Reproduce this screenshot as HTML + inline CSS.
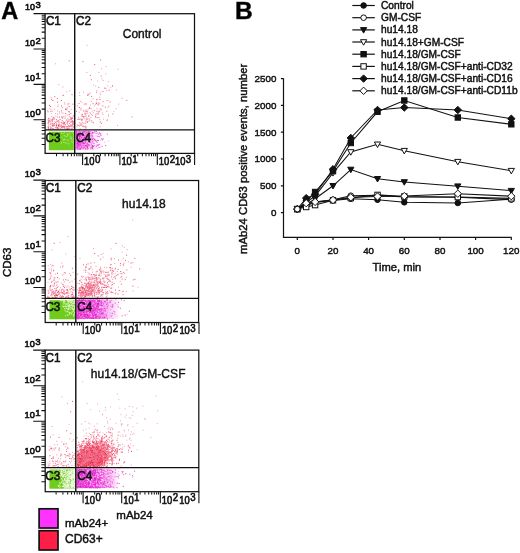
<!DOCTYPE html>
<html lang="en"><head><meta charset="utf-8"><title>Figure</title>
<style>html,body{margin:0;padding:0;background:#fff}svg{display:block}text{stroke:#111;stroke-width:.45px}.pa text{stroke-width:.6px}</style></head>
<body>
<svg width="520" height="553" viewBox="0 0 520 553" font-family="'Liberation Sans', Arial, sans-serif" fill="#111">
<rect width="520" height="553" fill="#fff"/>
<defs><filter id="bl" x="-5%" y="-5%" width="110%" height="110%"><feGaussianBlur stdDeviation="0.3"/></filter><linearGradient id="mg0" x1="0" x2="1" y1="0" y2="0"><stop offset="0" stop-color="#f040dc" stop-opacity="0.6"/><stop offset="0.45" stop-color="#f46ae4" stop-opacity="0.35"/><stop offset="1" stop-color="#f46ae4" stop-opacity="0"/></linearGradient><linearGradient id="mg1" x1="0" x2="1" y1="0" y2="0"><stop offset="0" stop-color="#f428d8" stop-opacity="1"/><stop offset="0.4" stop-color="#f02cd8" stop-opacity="0.9"/><stop offset="0.78" stop-color="#f46ae4" stop-opacity="0.35"/><stop offset="1" stop-color="#f46ae4" stop-opacity="0"/></linearGradient><linearGradient id="mg2" x1="0" x2="1" y1="0" y2="0"><stop offset="0" stop-color="#f02cd8" stop-opacity="0.95"/><stop offset="0.55" stop-color="#f02cd8" stop-opacity="0.9"/><stop offset="0.85" stop-color="#f46ae4" stop-opacity="0.4"/><stop offset="1" stop-color="#f46ae4" stop-opacity="0"/></linearGradient></defs>
<text x="1.2" y="18.7" font-size="23.5" font-weight="bold" fill="#000">A</text>
<text x="234.9" y="18.9" font-size="24.5" font-weight="bold" fill="#000">B</text>
<g class="pa">
<g filter="url(#bl)">
<rect x="48.9" y="131.7" width="24.9" height="18.5" fill="#70cc1c"/>
<path d="M68.3 135h1M71.6 142.7h1M70.1 138.1h1M63.6 142.3h1M64.5 139.7h1M71.3 141h1M61 132.8h1M70.7 138.5h1M70.4 138h1M66.5 142.6h1M64.5 136.2h1M64.2 139.2h1M63.9 132.4h1M66.2 136.5h1M66.9 135.7h1M67.5 133.6h1M72.7 141.9h1M70.3 136.4h1M68.3 143.9h1M72.7 139.1h1M63.5 139.3h1M62.8 139.7h1M68.2 140.2h1M61.4 133.6h1M61.3 137.2h1M67 134.7h1M66.4 136.7h1M71.8 132.9h1M68.4 143.8h1M67 134.4h1M66.8 140.1h1M63.8 135.5h1M61 142.6h1M63.2 140h1M69.1 133.3h1M63.3 142.3h1M65.3 143.5h1M60.9 143h1M70.8 138.8h1M62.7 133.5h1" stroke="#b4e884" stroke-width="1" stroke-opacity="0.9" fill="none"/>
<path d="M52.2 123.6h1M71.8 122.2h1M61.8 118.1h1M51.9 119.7h1M70.6 119.5h1M64.2 126.6h1M62.3 126.4h1M57.1 127.5h1M58 125.9h1M53.5 129.3h1M48.1 118.4h1M70.4 124.9h1M59.5 126.7h1M61.7 120.6h1M55.7 125h1M67.1 128.3h1M47.8 122.2h1M57 102.1h1M47.9 127.9h1M50.4 111.3h1M72.8 123h1M64.6 124.5h1M58.5 121.2h1M61 106h1M70.3 113.5h1M56.3 126h1M62.8 95.4h1M65.3 109.4h1M56.6 128.9h1M60.9 100.5h1M67.5 121.3h1M71.3 126h1M51.1 99.4h1M71.9 120.7h1M47.2 110.9h1M67.1 122.2h1M68.7 114.5h1M50.7 120.1h1M58.2 128.7h1M68.8 126.5h1M47.5 127h1M63.8 122.9h1M68.2 125.7h1M60.7 126.3h1M66.4 109.8h1M53.1 125.7h1M52.4 100.5h1M56.8 98.6h1M51.9 120.9h1M56.3 124.8h1M72.3 123.8h1M62.4 126.6h1M56.1 125.4h1M54.3 96.7h1M72.4 124.3h1M58.9 117.2h1M73.2 126.9h1M60.8 122.4h1M61 110.9h1M70.9 118.4h1M66.9 129.5h1M62.5 123.7h1M58.4 125.1h1M70.5 117.7h1M58 125.9h1M71.6 121.6h1M48.9 105.6h1M58.5 122.7h1M60.9 125.1h1M72.4 104.2h1M53.8 123.5h1M68.5 127h1M65.1 113.5h1M66.2 126.7h1M63.8 128h1M72.9 121.7h1M55.9 119.7h1M57.7 120.7h1M52.5 118.8h1M48.4 121.2h1M52.8 117.6h1M71.5 94.7h1M69.4 121h1M50.1 124.1h1M63.2 121.9h1M59.8 128.9h1M62.9 123.9h1M64.6 118h1M55.3 122.5h1M72.7 116.1h1M59.5 119.5h1M63.8 123.4h1M64 122.7h1M52 125.4h1M48.7 120.1h1M58 124.9h1M67.4 128.4h1M68.8 112.1h1M66.5 108.1h1M50.1 106.5h1M71.4 128.9h1M68.4 111.5h1M70.4 118.8h1M61 127.7h1M71.5 125.4h1M48.3 125h1M47.9 128.7h1M47.6 123.4h1M53.8 125.2h1M53.7 125.1h1M52.1 119.7h1M62.2 127.8h1M48.1 127.1h1M62.8 126.3h1M51.5 125h1M65.1 109.1h1M47.7 120.1h1M55.4 127.7h1M72.1 118.5h1M61.4 116.7h1M68.7 60.9h1" stroke="#e63050" stroke-width="1" stroke-opacity="0.8" fill="none"/>
<path d="M64.6 128.5h1M63.3 116.4h1M52.2 121h1M62.4 87h1M48.2 129.5h1M68.4 106.4h1M72.6 126.5h1M69.8 117.1h1M48.4 122.5h1M56.1 121.4h1M55.6 127.1h1M50.1 128.6h1M63.8 127h1M68.3 129.1h1M55.4 116.1h1M70.1 126.6h1M68.3 119.4h1M50.5 121.9h1M67.5 126.6h1M70.6 125.7h1M52.3 128.6h1M62.4 117.7h1M64.1 123.7h1M63.3 127.5h1M49.7 126.5h1M64.7 125.3h1M63.9 123h1M69 123.5h1M68.5 103.8h1M55.8 127.4h1M66.3 119.7h1M70.2 122.5h1M70.9 125.8h1M51.4 116.4h1M47.8 111.9h1M64.4 104.1h1M52.8 126h1M62.1 107.5h1M72.2 124.8h1M57.2 128.8h1M53.8 109.3h1M59.2 113h1M64.6 126.7h1M49.8 121.2h1M57.2 129h1M50.7 123.2h1M64.7 116h1M69.2 90.9h1M57.1 129.1h1M57 111h1M61.5 117.4h1M52.8 128.8h1M53.7 118.6h1M55.9 123.3h1M59.3 125.2h1M49.3 108.5h1M67.1 118.2h1M62.5 112.9h1M55.1 63.8h1M49.2 105h1M67.4 104.8h1M50.6 97.5h1M50.6 109.6h1M50.6 127.3h1M49.3 121.8h1M71.2 122.1h1M54.3 121.7h1M55.3 113.5h1M69.3 119.7h1M63.6 122.5h1M52.1 111.2h1M58.7 124.2h1M70.6 121.4h1M57.1 121.1h1M66 120.3h1M49.7 128.9h1M66.4 127h1M67.8 128.8h1M69.1 106.6h1M65 122.1h1M57 117h1M48.8 121h1M60.9 123h1M67.2 123.6h1M52.2 123.2h1M54.2 117.9h1M61.4 113.1h1M67 126.6h1M70.9 125.2h1M50.4 127.7h1M52 126.3h1M68.4 128.5h1M64.2 102.8h1M66.3 91.9h1M73.6 124.7h1M72.1 117.7h1M69.5 128.9h1M67.8 120.9h1M57.6 105.1h1M64.2 127.5h1M52 128.4h1M67.3 121.3h1M67.3 115.1h1M66.3 128.1h1M58.9 124.1h1M57.2 128.6h1M58.3 84.6h1M48 128.2h1M69.6 125.8h1M61.5 127.8h1M57.4 106.5h1M61.7 122.3h1M66.3 123.7h1M57.2 114.1h1M69.2 116.4h1M71.6 128.3h1M57.4 121.9h1M50.8 113.3h1M67.3 124.8h1M73.5 123.2h1M51 128.9h1M66.1 129.5h1M69.1 128.9h1M71.6 127.3h1M50.4 129h1M49.5 118.8h1M73.4 115.4h1M50.2 128h1M51.8 129.2h1M62.4 95.1h1M59 111.8h1M67.1 128.7h1M52.2 119.4h1M71.4 129h1M52.9 124.2h1M67.6 103.6h1M48.9 121h1M59.7 125.4h1M48 129.2h1M55.4 127.4h1M55.4 129.3h1M66.2 128.9h1M59.2 126.7h1M48.6 129.1h1M73.6 127.8h1M70.7 109.6h1M71.5 121.1h1M53.7 119.2h1M57.6 127.6h1" stroke="#f0809a" stroke-width="1" stroke-opacity="0.8" fill="none"/>
<path d="M95.7 103.2h1M97.6 104.9h1M81.4 125.3h1M104.9 107.2h1M100.5 110h1M96.6 117.6h1M88.4 116.2h1M100.9 123.4h1M98.7 111.4h1M89.3 93.2h1M85.7 115.8h1M89.9 75.4h1M98.5 103.9h1M78.9 107.5h1M91.1 96.5h1M96.1 103.6h1M96.1 99.7h1M92.9 122.8h1M85.5 121h1M84.7 123.3h1M112.3 114h1M80.5 124.2h1M100.7 76.1h1M78.5 103.5h1M82.4 61.6h1M102.6 101.6h1M96 92.2h1M81.2 120.2h1M106.3 111.2h1M106.8 119.9h1M91.3 120.9h1M85.6 110.2h1M83.4 117.8h1M104.2 88.1h1M83.8 104.1h1M85.5 113.5h1M81.8 116.1h1M109.7 101.9h1M82 114.4h1M82.8 116.5h1M131.6 116.9h1M108.6 90.1h1M96.6 113.4h1M95 116.3h1M97.7 114.1h1M83.3 116.5h1M86.7 111.7h1M81.7 119.3h1M76.9 125.1h1M112 86h1M98.3 87.4h1M126.3 100.4h1M87.3 121.7h1M78.2 125.4h1M82.3 126.4h1M80.7 119.1h1M76 111.3h1M100.1 59.9h1M94.2 64.5h1M88.2 94.7h1M99.5 99.6h1M85.3 127.6h1M98.5 117.6h1M89 107.9h1M89.4 108.4h1M85.6 103.7h1M90.8 79.7h1M86.9 122.3h1M84.8 126.2h1M86.3 119.1h1M87.2 95.5h1M102.3 105.9h1M105.4 88.3h1" stroke="#e63050" stroke-width="1" stroke-opacity="0.75" fill="none"/>
<path d="M87.4 109.8h1M89.3 118.8h1M78.6 119h1M93.7 106h1M117.7 69.2h1M79.6 128.9h1M91 114.5h1M99.8 122.4h1M118.1 104.1h1M85.3 111.8h1M92.7 112.7h1M100.5 109h1M95.9 102.4h1M88.3 115.4h1M78.6 112.2h1M107.6 107.2h1M76.9 119.3h1M97.3 99.7h1M86.5 118h1M106.4 100.4h1M98 112.9h1M117 125.4h1M84.3 118.9h1M81.2 119.9h1M90.1 113.7h1M102.8 80.6h1M95.7 115h1M99.3 119.7h1M84.7 114.6h1M79.7 109h1M100.1 121.6h1M106.6 120.4h1M98.4 102.7h1M81.3 102.2h1M92.5 103.9h1M107.3 85.9h1M78.9 126.3h1M89.1 107.3h1M90 105h1M79.5 124.1h1M84.5 111.1h1M113.5 111.7h1M90.9 101.5h1M81.5 120.8h1M82.9 110.4h1M86.2 126.7h1M108 114.7h1M82.2 122.7h1M91.8 111.1h1M108 116.2h1M98.4 72.5h1M86.4 119.4h1M77.9 117.4h1M108.3 106h1M88.7 120.7h1M110.3 87.2h1M80.3 110h1M81.4 123.2h1M86 111.5h1M83.1 111.2h1M83.4 126.8h1M79 92.8h1M96.4 108.6h1M92.6 98.9h1M102.9 91.5h1M121.6 98.2h1M76.5 126.9h1M83 92.2h1M90.5 117.4h1M89.6 121h1M99.7 108.9h1M94.8 104.7h1M115.9 90h1M86.6 45.2h1M90.7 108.7h1M96.2 111.3h1M94.9 114.1h1M79.2 95.5h1M101 68.7h1M84.8 116.5h1M91.8 115.4h1M95.1 117.8h1M105.3 74h1M87.1 113.2h1M103.1 119.1h1M99.7 126.8h1M92.5 103.5h1M92.9 85.1h1M97.3 111h1M80.9 114.8h1M112.1 85.6h1M85.4 128.8h1M87.2 119.1h1M79.9 101.4h1M88 116.3h1M80.6 108.3h1M108.1 81.6h1M83.9 126.8h1M85.5 104.7h1M87.2 94.1h1M107.4 100.5h1M78 119.6h1M115.6 108.9h1M89.5 112.7h1M84 113.1h1M106.2 90.6h1M105.6 66.6h1M79.8 125.6h1M88.5 108.5h1M99.6 92.8h1M97.1 81h1M99.9 94.6h1M85.6 122h1M98.7 111.9h1M84.6 114.2h1M79.3 119h1M101.6 91.5h1M93.8 110.4h1M86.3 72.5h1M88.6 119h1M76.9 105.8h1M101.9 112.8h1M95.2 86.1h1M101.5 78.9h1M79.3 119.4h1M82.9 126.1h1M99.3 97.2h1M80.3 123.9h1M83.1 123.1h1M81.3 116.5h1M79.1 122.6h1M94.1 110.7h1M91.6 122.4h1M96.5 90.6h1M98.3 103.9h1M102.7 114.3h1" stroke="#f0809a" stroke-width="1" stroke-opacity="0.8" fill="none"/>
<rect x="75.3" y="131.1" width="24" height="18.7" fill="url(#mg0)"/>
<path d="M78.5 131.2h1M78 144h1M91.9 133.5h1M80.9 138.9h1M87.3 146.1h1M84.2 143h1M88.6 135.4h1M84.5 136.7h1M79.9 134.7h1M97.5 140.6h1M79.3 136.1h1M77 144.6h1M101.5 146.4h1M79.9 142h1M85.1 131.2h1M84.1 140h1M89.3 142.6h1M88.7 140.5h1M89.6 142.2h1M82.3 137.4h1M82.9 131.7h1M77.7 146.7h1M75.9 140.3h1M86.9 146.1h1M82.2 132.5h1M99.2 136.7h1M80.7 134.5h1M80.3 136.4h1M78.8 146.6h1M79.2 136.1h1M89.8 138.6h1M82.5 132h1M77.8 142.6h1M83.2 139h1M91.4 136.1h1M89.3 145.3h1M79.8 135.4h1M86.8 149h1M76.4 147.5h1M87.9 132.3h1M87.6 144.9h1M93.6 145.5h1M79.1 137.8h1M88.2 139.1h1M87.4 144.3h1M79.3 143.1h1M88.6 145.9h1M75.8 134.6h1M89.4 137.3h1M85.4 138.7h1M83.9 140.4h1M81.5 145.4h1M80.3 148.4h1M78.4 145.2h1M78.3 145.9h1M87.1 144h1M81.6 140.2h1M95.7 141.4h1M76.9 148.6h1M87 139.3h1M76.7 147.1h1M78.5 142.7h1M99.1 144.3h1M79.3 143.1h1M90.4 147.5h1M83.9 146.9h1M79.3 136.7h1M100.5 135.3h1M78.1 132h1M86.4 132.6h1M87.2 147.4h1M79.8 149.2h1M83.4 135.7h1M96.4 133.3h1M83.7 138.9h1M82.6 138.8h1M79.2 142.1h1M87.4 148.8h1M75.9 142.6h1M78.7 144.3h1M102.4 138.8h1M82.6 132.6h1M81.9 145.4h1M80.7 133.8h1M91.1 134.1h1M92.7 132.6h1M78.8 131.2h1M87.4 139.5h1M91.9 136.8h1M81.7 136.3h1M85 142.8h1M78.5 136.1h1M76.4 143.7h1M76.7 146h1M75.7 132.4h1M88.5 137.6h1M77.1 144.4h1M77.5 133.8h1M78.9 135.9h1M79.6 137.6h1M86 132.5h1M81.5 135.9h1M76.3 144.6h1M82.2 143.2h1M77.1 144.3h1M82.7 147h1M98.7 147.3h1M91 144.1h1M80.9 142h1M76.3 135.3h1M100.9 138.9h1M79.4 131.6h1M76.7 138.8h1M79.2 136.5h1M79.2 139.8h1M91.9 141.8h1M75.9 131.1h1M99.8 134.9h1M85.8 140h1M83.7 137.4h1M87.2 148.4h1M96.6 142.4h1M79.5 143.9h1M76.4 138.1h1M86.3 134.3h1M90.1 133.6h1M88.5 131.5h1M79.7 132.3h1M91.7 139.8h1M77.3 148.7h1M76.9 146h1M79.7 136.7h1M83.6 139h1M80.1 148.8h1M84.3 136.5h1M81.8 143.8h1M93.1 146.5h1M97.9 134.2h1M77 142h1M80.5 134.8h1M81.4 135.4h1M86.6 144.4h1M77.4 138.8h1M87.7 137.2h1M83.7 147.7h1M76.8 137.7h1M77.6 143.5h1M80 139.6h1M78.5 143h1M93.6 140h1M82.6 148.4h1M79 131.2h1M77.5 142.4h1M87 132h1M89.7 142.5h1M88.3 132.5h1M84.7 135.8h1M93.5 143.4h1M92 147h1M84.2 138.5h1M89.3 136.1h1M83 132h1M81.4 145.7h1M93.9 139.2h1M76.1 133.5h1M90.4 148.8h1M89.6 131.4h1M86.2 135.5h1M83.6 139.3h1M76.5 131.6h1M82.9 145.1h1M85.1 133.3h1M79.6 145.7h1M76.2 147.9h1M85.2 146h1M95.8 146.2h1M83.2 143.8h1M88.4 131.5h1M75.7 131.8h1M83.9 135.4h1M81.2 137.5h1M96.7 140.4h1M91.5 147.2h1M81.9 133.1h1M76.7 143.7h1M90.4 140.7h1M78.6 144.6h1M77.4 143.2h1M106.8 134.1h1M76.8 138.9h1M99.8 133.3h1M83.4 139.1h1M77 141.9h1M90.1 133.6h1M85.7 131.7h1M79.9 144.2h1M79.6 145.9h1M77.6 147.2h1M85.9 136.4h1M84.8 142.4h1M81.9 132.7h1M81.4 133.9h1M91.6 135.5h1M84.7 139.8h1M83.2 134.1h1M94.3 139.3h1M76.5 143.6h1M84 145.4h1M80 145.6h1M78.5 149.4h1M88.5 138.5h1M90.8 138.1h1M88.4 131.5h1M78.4 140.6h1M95.9 131.3h1" stroke="#ee2ad8" stroke-width="1" stroke-opacity="0.9" fill="none"/>
<path d="M87.7 138.4h1M86.9 140.5h1M95.4 133.1h1M79.1 141.2h1M90 135.7h1M82.7 132.6h1M77.9 141.9h1M75.7 147h1M80.6 135.3h1M93.3 148.1h1M86.5 148.7h1M90.9 138.7h1M88.9 139.3h1M91.3 132h1M79.7 140.1h1M83.2 131.3h1M103 139.1h1M85 141.3h1M77.5 134.5h1M81.2 145.4h1M100 140.2h1M77.3 141.7h1M84.4 148.9h1M76.9 145.1h1M87.7 136.1h1M84.5 141h1M80.1 137.3h1M82.1 136.7h1M80.9 135.3h1M94.9 132.3h1M85.6 143.4h1M84.9 137.8h1M81.8 146.2h1M81.3 142.3h1M92.5 133.5h1M75.9 142.5h1M97 136.2h1M86.6 144.7h1M78.6 143.5h1M91.6 133.2h1M79.7 144h1M81.7 145.7h1M92.4 142.3h1M83.3 137.1h1M75.8 147.7h1M79.8 148.1h1M84.2 139.4h1M89.4 138.4h1M76.4 138.3h1M95.6 147h1M77 147.8h1M75.9 140.3h1M83.3 142.4h1M87.3 132.2h1M91.6 142.2h1M97.2 132.9h1M91.1 139.6h1M93.6 140.7h1M82.6 144.7h1M79.9 140.7h1M89 132.1h1M87.7 132.2h1M95.6 135.9h1M86.4 134.7h1M79.1 132.8h1M87.8 144.6h1M79.6 137.6h1M98.7 132.3h1M82.3 138.3h1M81.9 138.1h1M90.1 131.6h1M99.8 147.3h1M84.1 136.7h1M101.1 134h1M77.1 132.7h1M77.3 140.5h1M97.7 140.6h1M79.6 146h1M75.8 142.5h1M82.5 140.8h1M93.9 143.4h1M76.4 148.4h1M87.7 139.5h1M81.7 134h1M79.1 141h1M76.6 148.3h1M76 139.3h1M86.2 141.4h1M89.7 142.7h1M91.6 143.4h1M89.2 133.1h1M86.7 139.7h1M76.8 141.5h1M84.5 138.4h1M78.3 147.7h1M81.1 134.6h1M84.2 134.9h1M79 131.2h1M87.1 142.1h1M82.1 143.9h1M78.4 146.4h1M93.7 132.1h1M84.5 143.9h1M77.5 131.7h1M80.5 131.2h1M89.1 136.9h1M83.7 144.3h1M108.1 141.1h1M76.2 144.9h1M92.4 149.7h1M88 136h1M104.3 142.1h1M81.7 147.3h1M76.6 137.6h1M78.6 141h1M79.7 134.9h1M83.1 142.7h1M90.5 141.3h1M87.1 140.4h1M93.8 133h1M86.4 140.3h1M78.9 147.7h1M89 138.3h1M83.9 145.9h1M86.5 132.4h1M83.8 145.3h1M81 139.1h1M76.3 135.5h1M88.9 137.7h1M90.6 146.9h1M81.1 136h1M82.7 142.2h1M82.1 139.5h1M81.1 147h1M93.2 141h1M81.3 134.6h1M85.6 136h1M82.2 136.3h1M96.3 145h1M97.5 146h1M90.4 133.8h1M78.7 139.5h1M78.9 138.9h1M86.8 131.1h1M97.2 148.3h1M80.1 134.1h1M83.6 133h1M81.4 145.8h1M92.6 136.5h1M92.2 139.1h1" stroke="#f58af0" stroke-width="1" stroke-opacity="0.85" fill="none"/>
<path d="M78.8 136.1h1M78.6 135.3h1M83.9 131.3h1M84.8 141.2h1M88.7 133.3h1M82 132.2h1M75.8 141.2h1M77.7 139.8h1M92 139.1h1M78.8 134.4h1M86 145.3h1M77.5 135.7h1M97.1 145h1M82.9 135.1h1M79.3 138.8h1M94.4 131.2h1M92 147h1M95.1 140.3h1M84 137.6h1M84.5 138.7h1M76.4 135h1M82.9 143.2h1M76.7 134h1M91.8 145.5h1M83.6 140.4h1M79.6 135.6h1M85 145.7h1M85.8 146.9h1M87.5 137.7h1M88.7 133.2h1M91.7 145.9h1M91.9 132.4h1M81.1 147.2h1M105.2 145.6h1M87.1 137h1M86.6 143.1h1M78.6 141.7h1M88.4 144.6h1M78.9 138.3h1M78.4 142.4h1M83.6 132.3h1M97.9 145h1M97.6 140.4h1M80.1 134.9h1M79.5 148.2h1M82.4 142.7h1M77.4 142.9h1M85.8 134.2h1M77.5 145.1h1M80.5 144h1M83.7 143.4h1M99.1 133.1h1M92.7 138.3h1M101.9 139.9h1M87 138h1M87.4 133.7h1M91.9 148.5h1M77.1 141.1h1M85 148.8h1M82.5 139.4h1M86.8 147h1M84.9 140.7h1M77.2 147.7h1M97.6 136.4h1M77.5 135.7h1" stroke="#b8209c" stroke-width="1" stroke-opacity="0.8" fill="none"/>
</g>
<g stroke="#111" stroke-width="1.25" fill="none">
<rect x="45.1" y="13.7" width="149.4" height="139.7"/>
<path d="M74.7 13.7V153.4M45.1 129.9H194.5" stroke-width="1.4"/>
</g>
<path d="M33.5 119.8H45.1M33.5 84.4H45.1M33.5 49H45.1M33.5 13.6H45.1M82.6 153.4V164.9M119.9 153.4V164.9M157.3 153.4V164.9M194.6 153.4V164.9" stroke="#111" stroke-width="1.1" fill="none"/>
<path d="M41.7 144.5H45.1M56.5 154V156.3M41.7 138.3H45.1M63.1 154V156.3M41.7 133.9H45.1M67.7 154V156.3M41.7 130.5H45.1M71.4 154V156.3M41.7 127.7H45.1M74.3 154V156.3M41.7 125.3H45.1M76.8 154V156.3M41.7 123.2H45.1M79 154V156.3M41.7 121.4H45.1M80.9 154V156.3M41.7 109.1H45.1M93.8 154V156.3M41.7 102.9H45.1M100.4 154V156.3M41.7 98.5H45.1M105.1 154V156.3M41.7 95.1H45.1M108.7 154V156.3M41.7 92.3H45.1M111.6 154V156.3M41.7 89.9H45.1M114.1 154V156.3M41.7 87.8H45.1M116.3 154V156.3M41.7 86H45.1M118.2 154V156.3M41.7 73.7H45.1M131.2 154V156.3M41.7 67.5H45.1M137.7 154V156.3M41.7 63.1H45.1M142.4 154V156.3M41.7 59.7H45.1M146 154V156.3M41.7 56.9H45.1M149 154V156.3M41.7 54.5H45.1M151.5 154V156.3M41.7 52.4H45.1M153.6 154V156.3M41.7 50.6H45.1M155.6 154V156.3M41.7 38.3H45.1M41.7 32.1H45.1M41.7 27.7H45.1M41.7 24.3H45.1M41.7 21.5H45.1M41.7 19.1H45.1M41.7 17H45.1M41.7 15.2H45.1" stroke="#111" stroke-width="1.05" fill="none"/>
<text x="24.9" y="116.6" font-size="9.0">10<tspan dx="0.5" dy="-2.0" font-size="9.5">0</tspan></text>
<text x="24.9" y="81.2" font-size="9.0">10<tspan dx="0.5" dy="-2.0" font-size="9.5">1</tspan></text>
<text x="24.9" y="45.8" font-size="9.0">10<tspan dx="0.5" dy="-2.0" font-size="9.5">2</tspan></text>
<text x="24.9" y="10.4" font-size="9.0">10<tspan dx="0.5" dy="-2.0" font-size="9.5">3</tspan></text>
<text transform="translate(84.1 165.3) scale(.9 1)" font-size="10.4">10<tspan dx="0.5" dy="-2.4" font-size="10.8">0</tspan></text>
<text transform="translate(121.4 165.3) scale(.9 1)" font-size="10.4">10<tspan dx="0.5" dy="-2.4" font-size="10.8">1</tspan></text>
<text transform="translate(158.8 165.3) scale(.9 1)" font-size="10.4">10<tspan dx="0.5" dy="-2.4" font-size="10.8">2</tspan></text>
<text transform="translate(175 165.3) scale(.9 1)" font-size="10.4">10<tspan dx="0.5" dy="-2.4" font-size="10.8">3</tspan></text>
<text transform="translate(45.9 25.3) scale(.9 1)" font-size="13">C1</text>
<text transform="translate(76.1 25.3) scale(.9 1)" font-size="13">C2</text>
<text transform="translate(45.5 142) scale(.9 1)" font-size="13">C3</text>
<text transform="translate(76.1 142) scale(.9 1)" font-size="13">C4</text>
<text x="122.7" y="37.6" font-size="12" textLength="38.8" style="stroke-width:.4px">Control</text>
</g>
<g class="pa">
<g filter="url(#bl)">
<rect x="49.5" y="300.2" width="25.4" height="19.1" fill="#70cc1c"/>
<path d="M73.2 305.6h1M73.6 309.2h1M70.9 314h1M68.7 314.8h1M71.8 311.9h1M74.7 303.2h1M71 313.4h1M73 309.5h1M73.9 301.2h1M72.8 315.1h1M69.9 301.9h1M65.4 308.9h1M72.2 309.2h1M73.5 314h1M74.6 308.6h1M64.9 315.9h1M64 300.4h1M71.6 300.3h1M73.4 301.4h1M63 306.8h1M71.4 304.3h1M67 300.5h1M74.9 301.4h1M68.4 306.9h1M63.2 304h1M73 310.7h1M67.5 305h1M69.1 313.3h1M64.4 310.6h1M67.9 305.4h1M64.5 303.3h1M66.8 301.6h1M71 302.4h1M67.5 303.3h1M71.9 303.4h1M74.1 301.2h1M71 305.1h1M61.3 300.7h1M74.6 313.1h1M65.8 306.4h1M68.1 300.6h1M70.4 302.9h1M71.4 302h1M68.1 301h1M69.4 305.2h1M71.5 301.3h1M69.6 301h1M67.2 309.3h1M69 304.4h1M68.7 308.7h1M67.4 305h1M71.2 305.6h1M70.2 302.7h1M69 304.3h1M72.3 305.2h1M73.3 303.1h1M71.7 312.1h1M68.1 301.9h1M74.4 301.6h1M63.8 303.1h1M73.2 311.1h1M69.1 312.6h1M68.8 306.7h1M73.6 303.3h1M71.8 308.3h1M74.7 312.1h1M73.9 301.9h1M64.1 308.6h1M70.1 309.5h1M72.9 303.8h1M63.2 300.9h1M70.6 307.5h1M74.8 301.5h1M66.5 303.5h1M64.1 306.3h1M67.3 315.3h1M68.1 300.9h1M67.3 300.4h1M69.3 306.2h1M73.5 314.9h1M70.3 300.3h1M71.1 308.1h1M63.9 300.3h1M62.7 306.4h1M74.5 300.7h1M68.2 308.5h1M74.5 303.4h1M68 308.4h1M71.6 302h1M71.8 300.5h1M63.4 301.3h1M62.9 302.2h1M69.4 301.1h1M64.4 301.4h1M67.4 306.3h1M65.8 304.5h1M67.7 312h1M69.6 305.5h1M67.7 306.2h1M68 309.5h1M69.9 312.7h1M72.1 307h1M61.9 300.3h1M74.9 304.8h1M69.3 300.3h1M74.3 307.4h1M59.9 300.4h1M62.4 306.2h1M63.7 301h1M74.2 312.7h1M69 300.6h1M73.6 308.5h1M72.2 309.4h1M63.4 302.2h1M68.4 307.2h1M67.9 302.9h1M69.5 302.1h1M72.7 302.1h1M63.2 300.2h1M74.3 308.7h1M69.8 300.4h1M68.4 301.4h1M72.2 300.5h1M67.1 311.6h1M72.3 306h1M69.1 305h1M69.8 307h1M65.6 311.7h1M65.9 307.8h1M73.7 305.7h1M71 302.7h1M69.2 305.8h1M72.9 316h1M74.2 306.7h1M65 305.1h1M74.9 313.5h1M60.5 300.4h1M71.4 300.4h1M66.9 311.2h1M66.7 314.8h1M70 300.3h1M71.2 300.2h1M69.3 300.2h1M72.4 306.9h1M74.5 300.9h1M65.2 306.6h1M66.5 308.6h1M71.3 300.2h1M69 313.1h1M67.7 302h1" stroke="#dff5c4" stroke-width="1" stroke-opacity="0.95" fill="none"/>
<path d="M62.5 284.7h1M57 273.3h1M56.7 295.7h1M58.3 294.5h1M47.3 297.1h1M59 293h1M54.5 297h1M57.1 277.5h1M51.7 297.3h1M56.4 297.6h1M66.5 290.1h1M74.4 279.1h1M52.6 297.5h1M71.1 288.5h1M64.2 294.1h1M50 285.6h1M47.6 297.3h1M71.6 297.7h1M53.7 243.4h1M50.1 273.7h1M65.3 279.7h1M66.7 289.6h1M71.9 268.3h1M61 296.8h1M55.8 295.6h1M56 290.3h1M52.9 294.1h1M64.7 293.6h1M73.2 287.7h1M49.5 288.9h1M57.9 291.6h1M56.9 295.7h1M49.4 286.9h1M63.6 291.5h1M74.3 297h1M54.8 292h1M67.3 293.3h1M72.1 294.5h1M54.7 297.7h1M72.6 296.8h1M67.9 297.3h1M65 297.3h1M52.6 291.2h1M54.9 297.5h1M50 278.1h1M71.9 287h1M69.5 289.1h1M49.6 272.6h1M61.9 292.9h1M53.1 270.3h1M68.3 295.4h1M63 296.7h1M73.3 297.9h1M67.3 292.4h1M50 286.7h1M57.5 281.8h1M63.1 279.9h1M72.4 289.9h1M57.4 292.3h1M52.4 265.4h1M55 294.9h1M54 295.4h1M51.5 281.5h1M56.7 287.5h1M54.1 283.8h1M61.3 292.6h1M71.9 297.8h1M73.5 290.2h1M51.6 289.5h1M62.9 286.4h1M65.8 292.5h1M51.4 294.9h1M61.9 296h1M52.7 292.6h1M57.2 292.7h1M56.1 294.7h1M69.7 289.8h1M53.7 278h1M62.1 266.9h1M63.4 290.9h1M56.3 285.1h1M72.9 297.5h1M56.4 295.4h1M56.2 290.7h1M66.3 296.9h1M60.7 297.4h1M67.2 290.3h1M51.4 292.8h1M51.3 294h1M67.5 280.2h1M57.9 291.2h1M70.9 294.5h1M53.6 293.5h1M53.8 283h1M71 286.3h1M57.2 295.1h1M50.2 290.3h1M53.3 280.2h1M68.4 298h1M54.5 295.4h1M62.5 292.9h1M70.2 275.3h1M64 287.6h1" stroke="#e63050" stroke-width="1" stroke-opacity="0.8" fill="none"/>
<path d="M68 296.2h1M74.2 297.9h1M55.5 297h1M71.4 295.7h1M62.4 296.8h1M52.8 291.2h1M50.8 282.4h1M56.2 282.6h1M51 269h1M68.5 293.2h1M62.6 265.9h1M48.4 291.1h1M71.4 291.9h1M63.6 292.3h1M59.4 296.3h1M51.1 294h1M60.2 295.1h1M72.5 297.2h1M63.3 274.2h1M59.9 292.6h1M64 281.9h1M62.4 296.8h1M64.4 272.5h1M52.7 286.4h1M51.3 295.9h1M47.5 282.3h1M70.2 296.1h1M47.3 296.1h1M54.3 286.1h1M63.4 289.9h1M61 289.5h1M72.1 293.2h1M53.1 291.5h1M50.3 295.5h1M51.6 249.9h1M60.9 283.2h1M55.2 288.9h1M59.8 287.8h1M66.2 293.4h1M56.1 288.6h1M65.6 290.1h1M47.7 293.7h1M62.3 293.5h1M72.2 296.4h1M73 295.2h1M63 293.5h1M74.3 256.3h1M53.7 292.5h1M55.4 290.3h1M59.6 242.6h1M61.2 290.4h1M69.8 291.9h1M59.5 297h1M48.5 297.9h1M66.5 296.7h1M53.3 285.3h1M71.6 281.2h1M53.1 270.8h1M55.4 294h1M51 270.8h1M55.6 293.3h1M63.8 272.8h1M54.6 293.2h1M48.5 292.6h1M63.4 294.4h1M67.5 236.5h1M50.2 264.6h1M58.9 289.8h1M49.1 297.5h1M47.7 265.7h1M57.5 286.5h1M55.1 274h1M71.4 296.3h1M47.6 290.1h1M65 273.2h1M67.4 291.3h1M58.7 278.8h1M61 291.7h1M54 288.6h1M54.2 280.1h1M48.7 279.3h1M72.2 292.8h1M48 293.2h1M51 291.1h1M67.2 286h1M59.8 295.2h1M61.3 263.1h1M55.3 290.5h1M51.6 285.2h1M69.3 282.4h1M50.6 275.4h1M55.4 282h1M68 297.8h1M55.4 298h1M73.5 289.4h1M52 291.8h1M61.8 275.2h1M62 295.8h1M61 292.7h1M68.6 287.1h1M48.5 268.9h1M62.3 289.7h1M69 273.5h1M48.6 297h1M62.3 284.6h1M59.4 290.7h1M58.4 293.5h1M62 289.2h1M64.4 286h1M66.6 295.7h1M72 292.6h1M65.3 253.9h1M74.8 287.7h1M65.6 297.2h1M54.6 292.1h1M51.3 266.4h1M49.2 279.3h1M54.6 296.6h1M50.5 276.5h1M66.1 293.3h1M66.2 287.1h1M64.1 294.7h1M57.8 294.1h1M60 267.2h1M54.4 277.8h1M72.6 272.4h1M47.6 291h1" stroke="#f0809a" stroke-width="1" stroke-opacity="0.8" fill="none"/>
<path d="M112.9 271.3h1M83.4 292.9h1M114.9 278.7h1M98.8 282.5h1M90.5 266.9h1M91.5 291.5h1M97.6 255.9h1M114.7 293.8h1M96.1 284.9h1M109.6 281.4h1M85.9 285.1h1M78.2 292.6h1M125 260.4h1M97.8 290.6h1M78.8 283.7h1M92.4 278.5h1M110.5 288.3h1M86 264.8h1M82 291.5h1M122.6 294.7h1M106.1 292.7h1M102.3 284.1h1M98.7 290.8h1M87.5 276.9h1M112.1 270.4h1M102.8 278.8h1M87.7 287.1h1M88.3 291.3h1M88.1 278.9h1M79.9 296.2h1M102.1 289.7h1M106.7 272.3h1M81.9 293.7h1M85.1 291.8h1M99.1 290.4h1M88.8 268.7h1M87.6 291.8h1M85.5 295.7h1M93.2 284.8h1M79.2 280.6h1M117.3 274.8h1M96 275.1h1M100.2 259.2h1M89.5 295.3h1M120.8 284.1h1M132.8 279.8h1M96.2 281.8h1M93 285.2h1M90.8 293.5h1M84.3 296.6h1M85.5 284h1M111.2 288.1h1M92.2 287.1h1M88.5 269.4h1M98.1 290.7h1M91.1 290.2h1M89.4 287.4h1M98.6 275.4h1M92.8 285h1M85 292.9h1M81.6 284.3h1M91.3 287.4h1M86.7 283.8h1M117.6 269.4h1M90.4 293.2h1M107.7 284.8h1M88 294.2h1M94.4 274.9h1M124.7 279.6h1M90.4 287.8h1M99.7 281h1M92.4 291.9h1M85.5 277.8h1M92.7 289.8h1M94.6 291h1M106 287.4h1M112.1 284.5h1M104 287.3h1M105.6 272.3h1M86.1 284.9h1M102.3 294.5h1M90.4 288.4h1M94.1 282.3h1M90.4 263.1h1M94.4 285.5h1M90.3 278h1M91 285.5h1M95.2 275.3h1M99 287.9h1M82.4 288.2h1M83.9 289.1h1M78.7 288.4h1M94.7 286.7h1M95.9 278.2h1M94.2 253.5h1M81.8 292.5h1M79.2 287.7h1M78 293.8h1M91.4 290.1h1M83.4 291.2h1M87.6 263.9h1M86.1 294.8h1M117.5 294h1M118 260h1M115.7 275.6h1M103.1 292.6h1M81.9 288.5h1M122.3 291.7h1M93.9 294.9h1M83.4 285.6h1M78.3 295.5h1M105.6 285.7h1M77.3 274.2h1M85.8 279.3h1M111.6 268.3h1M88.7 287.2h1M85.2 287h1M107.1 282.4h1M92 287.1h1M83 293h1M80.8 297.3h1M88.4 293.4h1M98.6 274.8h1M91.9 289.8h1M86.3 286.6h1M95.7 280.1h1M108.2 286.9h1M122.8 272.4h1M88.6 277.5h1M93.7 278.6h1M93.9 293.3h1M89.3 286.7h1M88.1 289.7h1M80.8 287.3h1M79.2 290.2h1M89.5 287.5h1M109.3 267.7h1M80.9 295.1h1M91.9 295.4h1M119.2 290.6h1M96.9 285.2h1M100.2 283.2h1M134.5 279.3h1M93.8 276.1h1M90.1 284.6h1M89.6 279.5h1M92.8 274.5h1M99.3 282.6h1M88.5 288.9h1M90.8 274.6h1M86.1 290.4h1M81.8 287.4h1M79.9 293.2h1M105.4 287.5h1M88 290.4h1M105.4 276.5h1M92.1 290.1h1M84 290.3h1M77 297.4h1M94.5 292.7h1M87.1 287.8h1M100.3 283.4h1M81.4 293.6h1M110.7 258.2h1M105.4 275.7h1M104.2 282.1h1M87.8 295.5h1M88.2 284h1M80.3 290.8h1M100.7 291.8h1M126.3 269.9h1M110 267.8h1M96.7 271.2h1M101.2 287.3h1M85.4 286h1M112.3 292.5h1M87.3 288.3h1M93.3 291.8h1M85.4 294.7h1M98.4 290h1M126.1 255.2h1M100.7 272.9h1M84.2 289.2h1M90.7 293.6h1M134.3 258.4h1M82.7 295h1M78.6 291.1h1M90.3 290.3h1M97.6 291.9h1M97.6 296.8h1M88.2 283.7h1M94.3 280.3h1M110.5 292.2h1M90 287h1M87.7 282.7h1M79 292.8h1M90.7 287.6h1M85.3 296.2h1M100.4 268.8h1M89.7 288.5h1M80.5 287.7h1M115.5 243.4h1M84.3 292.8h1M106.5 278.5h1M121.7 279h1M108.9 275.1h1M120.1 263.6h1M97.5 283.4h1M87.8 283.4h1M139.2 268.9h1M100 281.3h1M106.9 291.8h1M98.1 286.3h1M88.6 285.5h1M82.6 293.9h1M85.2 290.3h1M90.2 294.6h1M85.6 293.7h1M106.1 296.8h1M89.4 291.5h1M120.2 271.5h1M87.8 294.1h1M94.1 288h1M85.5 291.7h1M80.9 292.7h1M97.6 293h1M89.4 293.4h1M86 293.7h1M111.1 276.9h1M109.3 280.3h1M85.8 280.3h1M79.6 290.3h1M99.2 270h1M94.5 284.3h1M91.9 296.4h1M90.5 291.4h1M111.7 282.2h1M100.5 284.2h1M121.3 276.6h1M107.4 274.9h1M132.4 286.1h1M87.3 287.1h1M83.1 293h1M83 264.8h1M81.4 287.8h1M91.8 293.7h1M100.8 295.3h1M89.3 293h1M97 297.4h1M115 290.1h1M107.5 279.4h1M100.6 271.2h1M80.3 290.2h1M87.5 290.7h1M107 286.7h1M105.3 293.8h1M84.2 288.9h1M122.7 264.3h1M97.9 288.5h1M87.1 293.3h1M82 287.2h1M114.9 268.3h1M85.2 292.5h1M81.3 276.4h1M95.7 271.9h1M111.6 272.3h1M87.3 287h1M110.1 270.3h1M82.2 296h1M107.4 293.4h1M85.2 270.7h1M82.1 292.4h1M89.4 294.6h1M87 290.7h1M99 292.2h1M103.1 287.5h1M93.7 286.1h1M80.8 286.2h1M80.7 292.8h1M101.6 290.8h1M98.8 293.2h1M110.9 292h1M95.8 277.5h1M85.1 296.6h1M110.6 264.5h1M85.3 292.1h1M79.4 289.7h1M88.8 288.6h1M111.3 274h1M83.2 288.7h1M82.3 292.7h1M82.8 287.4h1M86.8 294.7h1M80.6 292.8h1M93.9 295.7h1M91.3 291.8h1M84.2 283.4h1M81.5 292.2h1" stroke="#e63050" stroke-width="1" stroke-opacity="0.8" fill="none"/>
<path d="M90.2 285.1h1M121.9 245.7h1M93.1 290.8h1M113.6 283.3h1M81.3 291.8h1M103.5 278h1M81.5 296.3h1M100.8 295.8h1M105.2 272.5h1M99.3 273.1h1M97.5 286h1M116.8 271.5h1M87.9 282.2h1M94.4 290.2h1M102 290.5h1M77.3 289.9h1M121.1 273.7h1M122.7 291.2h1M83 291.6h1M94.6 282.1h1M108.4 279.8h1M86.2 280.9h1M104.1 267.2h1M87.2 288.5h1M86.2 292.6h1M92.7 287.4h1M96.8 279.5h1M96.4 294.3h1M81.4 282.4h1M112.6 270.9h1M96.3 281.2h1M85.1 272.4h1M100.7 294.4h1M87.1 294.9h1M81.9 289.9h1M79.8 288.5h1M84.3 292.2h1M83.2 276.4h1M81.1 295.2h1M132.4 262.7h1M91.9 269.8h1M94.5 278.1h1M86 289.2h1M91.8 289h1M88.6 291.8h1M96.6 283.1h1M120.3 277.5h1M91 283h1M98.3 277.6h1M81.8 293.7h1M106.7 295h1M85.3 278.9h1M119.8 273.3h1M98.4 281.6h1M126.7 249.5h1M87.8 289.8h1M93.5 281.7h1M102 292.3h1M92 289.5h1M84.9 291.3h1M108.1 272.1h1M103.6 274.2h1M102.2 287.1h1M92 286.1h1M93.8 287.4h1M88.8 289.7h1M90.4 286.7h1M84.9 294.5h1M82.1 277.7h1M91.1 287.2h1M79.1 290.9h1M98.3 294.5h1M88.2 278.9h1M82 291.4h1M91.5 288.7h1M105 293.4h1M91.8 285.7h1M89.2 291.9h1M86.2 285.7h1M84.2 295.6h1M79.2 280.7h1M96.4 278.5h1M95.4 296.3h1M99.8 291.4h1M83.4 270.2h1M77.7 297.5h1M96.5 291.5h1M109.3 286.9h1M125.8 291.5h1M85.9 292.3h1M83.8 279.7h1M90.8 294.5h1M111.2 285.2h1M102.6 278.3h1M88.6 285.1h1M91.3 285.5h1M98.5 281.4h1M90.9 276.9h1M114.7 273.3h1M117.9 287.1h1M87.6 272.6h1M79.5 258.4h1M91.7 295.5h1M94.2 295.3h1M79.7 295.9h1M113.2 277.6h1M89.8 285.3h1M104.6 282h1M100.3 279.3h1M95.6 266.4h1M88.9 274h1M86.6 292.1h1M82.3 292.6h1M89.5 294.1h1M97 278.2h1M85.3 287.5h1M91.1 281.8h1M92.4 285.9h1M89.3 291.9h1M87.6 283.8h1M89.6 285h1M102.3 284.2h1M90.7 292.3h1M96.6 279.9h1M97.5 290.3h1M81.3 284.9h1M100.2 271.6h1M97 282.3h1M87 295.9h1M90.7 287.7h1M78.5 290.4h1M91.2 279.3h1M91 275h1M78.6 292.7h1M118.4 290.9h1M84.9 288.6h1M110.9 259.9h1M101.4 290.7h1M82.7 295.5h1M131.2 262.9h1M79.8 295h1M99.9 296.3h1M81 282.2h1M100.2 281.9h1M110.5 248.9h1M90.6 285.7h1M84.7 295.5h1M99.5 276.1h1M113.6 283.4h1M97.5 289.6h1M99.6 279.1h1M88.8 279.9h1M97.9 283.9h1M123 265.7h1M79.5 289.2h1M83.5 295.5h1M85.7 285.1h1M89.1 288h1M105.3 291.8h1M121.7 252.1h1M119.7 281.4h1M91.3 290h1M113.9 258.5h1M82.1 293.5h1M91.2 292.2h1M119.9 265.5h1M93.9 289h1M97 284.9h1M111.7 284.6h1M84.2 292.7h1M92.4 279.3h1M81 295.1h1M107.6 272.8h1M85.5 283.7h1M115.3 292.6h1M89.2 285.1h1M90.9 290.5h1M81.5 290.2h1M99.9 282.9h1M91.4 284h1M84.1 297.4h1M89.6 289.9h1M103.6 271.8h1M92.1 282.2h1M91.5 279.8h1M89.8 287.9h1M96.2 287h1M103.9 285.2h1M84.5 282.9h1M99.2 290.5h1M94 262.6h1M80 294.4h1M82.2 289.4h1M121.4 273.9h1M84.5 293.2h1M92.4 277.3h1M127.9 261.9h1M87.1 286.3h1M102.5 253.5h1M98.3 292.3h1M95.8 284.9h1M87.6 294.1h1M93.5 288.6h1M85 267.2h1M86.4 284.5h1M106.9 283h1M103.6 278.1h1M84.7 286.7h1M80.5 295.2h1M112.5 274.1h1M85.1 290.5h1M94.6 283.7h1M91.9 272.3h1M92.8 288h1M78.1 295.8h1M90.2 282.4h1M90.3 284.6h1M94.1 292.9h1M87.8 289.9h1M102.1 278.8h1M104.1 285h1M123.7 247.3h1M90.7 290.9h1M125.8 277.4h1M132.2 220.2h1M79.9 281.2h1M98 291.8h1M123.6 263.1h1M105.5 277h1M106.3 267.7h1M97.4 286.3h1M96 292.7h1M102 283.4h1M91.8 277.1h1M102.6 270.7h1M82.8 297.3h1M94.8 277.2h1M82.3 293.7h1M112.1 279.5h1M94 293.2h1M95.4 287.2h1M93.2 282.6h1M89.2 281.3h1M130.3 263.2h1M105.2 274.8h1M92.9 248.4h1M100.2 279.7h1M77.2 283.1h1M107.4 279h1M80.9 291.5h1M102.8 292.9h1M94.5 290.8h1M82.5 294.1h1M114.8 277.1h1M110.6 270.2h1M122.9 258h1M98.3 278.7h1M100 267.2h1M109 290.8h1M86.2 286h1M92.8 290h1M98.8 269.4h1M103.1 272.2h1M96.2 293.1h1M94.1 296.1h1M106.8 276.7h1M91.1 288.8h1M132.4 291h1M101 288.9h1M80.9 287.7h1M88.7 282.7h1M80.5 279.4h1M103.4 284.3h1M91.5 284.2h1M124 273.4h1M100.3 271.3h1M101.5 271.6h1M79.1 289.6h1M96.9 284.8h1M79.6 294.9h1M94.2 288.1h1M88.8 294.2h1M86.9 286.1h1M109.9 270.8h1M80.8 292.8h1M78.8 291.5h1M88.3 290.1h1M107.7 275.4h1M137.4 287.2h1M90.4 295.1h1M93.1 290.3h1M113.9 276.6h1M94.7 284.8h1M95.9 288.3h1M99.9 270h1M88.9 289.6h1M90.2 293.1h1M117.7 274.1h1M83.1 290.6h1M88.7 273.9h1M100.2 281.9h1M96.1 288.8h1M105.7 285.9h1M102.6 257.2h1M89.9 294.4h1M89.1 278.9h1M108.3 274.7h1M88.9 296.6h1M88.1 285.6h1M88.1 289.5h1M88.9 286.3h1M100.3 282.9h1M98.3 283h1M130.7 267.2h1M89.7 283.4h1M87 287.1h1M96.6 283h1M96.2 294.4h1M99.8 289.7h1M90.4 292.5h1M83.9 290.4h1M80.9 293.4h1M94.5 278.5h1M108.1 281.4h1M83.3 289.1h1M97 287.4h1M114.2 263.5h1M94.2 294.2h1M83 293.2h1M96.4 281.5h1M88.6 287.3h1M91.2 294.8h1M86 293.5h1M100.6 275h1M96.3 292.8h1M85.4 266.7h1M101.8 278.1h1M86 267.5h1M110.6 259.4h1M84.8 269h1M109.9 265h1M89.2 283.9h1M94 285.8h1M88.6 289.2h1M102.1 296.1h1M89.3 281.1h1M105.2 289.8h1M81.4 296h1M97.4 290.1h1M103.4 280.7h1M100.7 254.5h1M84.1 294.7h1M89.9 284.1h1M93.8 274.4h1M90.3 268.3h1M86.2 287.8h1M114.6 269.2h1M100.8 272.8h1M103.8 285.2h1M88.2 284.8h1M98.2 275.7h1M105.4 285.2h1M102.7 281.5h1M94.5 289.3h1M95.9 279.5h1" stroke="#f0809a" stroke-width="1" stroke-opacity="0.8" fill="none"/>
<rect x="76.4" y="299.6" width="44" height="19.3" fill="url(#mg1)"/>
<path d="M84.6 305.5h1M83.1 299.9h1M87.1 311h1M79.5 300.8h1M97.6 307.8h1M81.5 311h1M88.3 312.5h1M85.4 305.1h1M89.8 314.5h1M82.2 302h1M79.1 313.5h1M80.3 301.8h1M77.5 310h1M80.4 302.8h1M96.2 300.9h1M119.9 308.2h1M89.5 303.4h1M103 304h1M98 300.7h1M85.5 305.1h1M84.2 314.1h1M95.1 315.1h1M90 311.8h1M100.5 313.8h1M78.3 300.6h1M86.1 303.1h1M86 308h1M81.6 307.1h1M99.2 309.6h1M89.6 300.3h1M95.5 300.5h1M80.9 309.4h1M96.3 307.5h1M92 304.6h1M85.7 314.3h1M118 302.4h1M91.3 317.5h1M91.4 318.5h1M82 313.8h1M82 315.8h1M101.5 307.8h1M104.9 311.3h1M89 315.9h1M78.7 317.6h1M86 313.1h1M84.6 301h1M102.7 301.7h1M82.7 317.8h1M99 301.4h1M78.7 311.5h1M100.5 309h1M88.6 308.8h1M81.5 306.4h1M89.3 307.1h1M81 308.3h1M89.2 314.8h1M100.9 302.2h1M89.4 304.3h1M90.2 299.6h1M78.2 311.4h1M85 314.5h1M111.7 307.3h1M79.7 301.9h1M83.1 300.1h1M83.8 315h1M84.9 309h1M77.9 301.8h1M98.6 310.7h1M109.5 302.1h1M101.8 311.6h1M77.4 308.4h1M97.8 315.4h1M81.1 309.4h1M81.6 311.6h1M90.2 300.4h1M91 301.4h1M94.5 317.1h1M99.2 311h1M90.6 308.3h1M82.5 302h1M121.6 315.8h1M80.4 312h1M106.8 299.7h1M80.3 304.3h1M89.3 310.2h1M80 305.8h1M86.1 302.4h1M88.7 305.4h1M89.7 300h1M84.7 314.3h1M100.4 311.2h1M88.5 300.5h1M89.8 318.1h1M84.7 310.7h1M89.2 312.3h1M92.9 299.7h1M81.6 301.5h1M80.5 300.9h1M81.6 310.1h1M77.6 302.6h1M109.9 300.7h1M81.7 308.7h1M107 318.9h1M81.1 306.3h1M79.2 300.3h1M81.7 307h1M101.1 313.1h1M97.9 303.2h1M78.6 299.9h1M78.4 310.6h1M100.7 302.4h1M87 305.1h1M78 318.8h1M101.5 305.5h1M81.4 303.6h1M94.9 310h1M81.3 310.9h1M89.6 313.9h1M86 317.7h1M92.4 309.4h1M77 313.8h1M78.2 306.5h1M78.6 310.2h1M83 300.2h1M87.9 301.4h1M78.2 301.6h1M84.1 318.2h1M81.7 301.3h1M79 300.4h1M111.6 315.5h1M78.1 301.8h1M102.1 317.7h1M84.1 310.7h1M89 310.1h1M86.7 306.9h1M82.2 309.3h1M96.5 308.6h1M92.5 310.1h1M96.5 316.1h1M88.5 307.4h1M86.1 314.2h1M85.6 311.5h1M78.7 300.6h1M83.7 303.6h1M79.3 310.8h1M84.5 308.2h1M90 301.3h1M84.8 313.5h1M88.5 307.5h1M80 313.4h1M114.2 311.9h1M81.2 305.6h1M112 313.4h1M110.5 313.1h1M91 308h1M90.2 306.2h1M85.3 307.1h1M92.9 301.6h1M77.9 306.9h1M79.5 306.6h1M87 303.9h1M81.8 300.8h1M90.4 307.2h1M89 301.9h1M91.4 316h1M109.8 301.9h1M79.3 304.6h1M85.2 306.1h1M86.5 304.2h1M106 315.1h1M106 315.7h1M83.9 309h1M97.3 311.8h1M106.1 304.4h1M80 305.8h1M83.7 312.8h1M93.2 310.5h1M78.7 310.2h1M82.4 306.6h1M86.5 305.6h1M79.4 300.6h1M84.4 317.3h1M92.3 301.5h1M79.7 307.6h1M103.2 315.6h1M99.1 309.7h1M94.4 310.2h1M97 305.2h1M80.7 303.8h1M101.7 299.8h1M87.8 317.4h1M78.7 300.3h1M90.4 302.9h1M83.2 304.2h1M84.8 308.2h1M85.7 306.9h1M77.1 318.9h1M85.8 316h1M90.3 306.8h1M88.6 303.8h1M93.7 301.6h1M89.6 313.3h1M87.2 314.9h1M91.1 313.2h1M83 311.2h1M128.8 311.2h1M77.7 301.1h1M82.1 317.6h1M86.2 301.7h1M102.8 312.1h1M81.5 299.7h1M95.8 316.6h1M89.2 306.6h1M84.8 308h1M79.9 305.5h1M94.8 308.6h1M78.5 318.7h1M87.8 308.2h1M87.1 307.6h1M93.1 316.5h1M89.2 302.5h1M92.2 301.5h1M104 308.4h1M92.1 300.7h1M80.2 309.9h1M88.5 300.8h1M83.8 308h1M90.1 312.1h1M83.1 308.6h1M77.1 316.4h1M92.9 318.4h1M92.1 311.9h1M79.2 309.2h1M86 314.5h1M88.8 311.6h1M83.2 314.3h1M91 317.1h1M89.4 316.3h1M85 302.5h1M102.5 310.5h1M78.3 301.8h1M79.6 304.8h1M79.7 312.5h1M110.9 316.1h1M106.5 308.3h1M84.8 312.6h1M87.4 305.1h1M81.2 315.2h1M117.7 307h1M99 300h1M92.6 316.9h1M87.8 309.7h1M88.3 308.8h1M79.3 303.1h1M81 301.8h1M83.5 316.5h1M81 300.1h1M90.5 314.7h1M106.5 299.7h1M97 300.9h1M83.9 318.8h1M104.2 310.8h1M97.8 314.2h1M97.7 316.9h1M77.3 304.1h1M80.8 315.7h1M91 303.2h1M86.1 306.9h1M93.2 301.5h1M90.4 307.4h1M87.8 306.8h1M80.8 315.1h1M96.4 316.2h1M80.6 306.4h1M89.1 303.9h1M94.1 308.2h1M95.4 303.4h1M82 310.6h1M89.4 302h1M84 306h1M80.3 302h1M81.3 318.3h1M100.2 305.1h1M84.1 308.9h1M85.3 316.6h1M106.9 306.7h1M96.9 299.8h1M94.8 307.3h1M93.4 317.8h1M84.2 304.5h1M79 317.1h1M88 306h1M93.3 317.7h1M82 309.2h1M77.3 316.4h1M83.3 315.3h1M88.6 303.4h1M83.6 307.7h1M79.4 301.1h1M83.7 308.6h1M86.3 306.2h1M85.6 315.9h1M94.7 306.5h1M86 304.2h1M86.5 305.8h1M92.7 314.9h1M83.4 310h1M90.2 317.8h1M99.3 305.1h1M87.2 300.5h1M78.5 303.7h1M82.4 312.5h1M86.8 305.3h1M112.6 306h1M95.7 312.8h1M101 303.7h1M87.5 309.1h1M81.7 302.9h1M99 318.4h1M82.1 310.1h1M78 305h1M83 311.8h1M86.9 303.2h1M81.2 309.1h1M77.3 304.9h1" stroke="#ee2ad8" stroke-width="1" stroke-opacity="0.9" fill="none"/>
<path d="M78.6 313.1h1M88.9 306.4h1M90.8 312.9h1M80.7 303.3h1M78.9 314.4h1M80.5 317.1h1M92.5 303.5h1M93.3 303.8h1M78.6 307.9h1M86.4 300h1M89.4 315.9h1M80.3 302.4h1M81.6 313.2h1M86.9 306h1M98.2 314.4h1M88 318.5h1M84.7 304h1M76.9 312.7h1M79 315.5h1M93.6 308h1M92.5 301.8h1M108.8 312.1h1M83.6 305.5h1M80.4 304.4h1M80.8 300.2h1M91.2 315.7h1M106.2 317.8h1M86.2 305.2h1M82 301.8h1M85.2 302.5h1M84.9 311h1M81.3 316.1h1M84.6 303.2h1M113.1 311.5h1M81.3 304.9h1M97.5 304.7h1M84.2 313.6h1M107.9 302.5h1M80.9 307.1h1M102.1 305.4h1M112.4 318.4h1M83.8 301.6h1M91.9 304.1h1M93.5 303.8h1M85.2 316h1M89.7 310.5h1M81.1 311.8h1M91.5 316.6h1M91.4 316.9h1M94.1 311.5h1M102.1 311.3h1M81.8 306.2h1M89.1 300h1M101.6 309.3h1M106.5 315.7h1M103.8 301.8h1M92.8 308.6h1M106.9 312.7h1M83.5 307.8h1M77.3 301.4h1M79.4 315.3h1M77.1 309h1M103.5 314.8h1M83.2 305.9h1M102.1 305.6h1M114 313.9h1M94.8 311.1h1M90.1 315.9h1M78.5 308.7h1M87.2 308.4h1M81.5 311.3h1M87.1 303.7h1M84.6 310h1M82.3 304h1M85.5 305.3h1M94.2 316.6h1M79.2 318.2h1M116.5 316.1h1M85.6 318.4h1M93.3 313.8h1M81.6 312.3h1M84.9 310.8h1M102.4 302.1h1M82.8 315.8h1M87 309.9h1M77.9 303.9h1M97 302.8h1M92.2 302.7h1M102.7 316h1M91.7 307.7h1M77.2 306.2h1M102.3 306h1M108.6 312.9h1M90.3 302.4h1M83.5 305.3h1M110.1 306.2h1M104.6 304.7h1M87.5 308.5h1M77.5 307.4h1M77.4 310.8h1M79.3 304.1h1M96.6 303.5h1M95.2 306.7h1M82.1 307.2h1M82.4 314.1h1M103.2 313h1M81.8 315.6h1M79.9 313.3h1M85.2 302.6h1M79.7 311.8h1M79 301.4h1M93 312.9h1M80.7 300.3h1M102 302.5h1M84.8 307.9h1M84 317.9h1M95.6 312h1M78.9 307.7h1M84 313.4h1M102.5 311.5h1M92.7 303h1M88.9 301.8h1M110.3 315.4h1M103.9 306.6h1M92.3 303.5h1M83.8 310.8h1M95.9 305.2h1M80.3 304.6h1M78.5 303.6h1M83.1 313.6h1M77.4 314.1h1M99.3 304.3h1M104.7 314.2h1M91.1 299.6h1M83.6 317.5h1M89.9 307.7h1M98.9 306.2h1M95.6 311h1M95.8 312.6h1M77.8 316.7h1M90.1 299.7h1M80.4 301.9h1M102.5 310.5h1M103.1 304.2h1M81.7 318h1M84.6 307.1h1M87.4 301.1h1M90 299.8h1M104.9 309.2h1M93.2 299.9h1M82 310.2h1M101 301.1h1M91.7 306.6h1M83.3 301.5h1M117.1 304.9h1M78.8 301.4h1M79.8 317.1h1M84.2 304.6h1M94.5 299.7h1M99 307.3h1M92.9 303.1h1M84.8 304.3h1M80.9 311h1M87.3 299.8h1M97.8 315.9h1M110.8 306.4h1M80 304.1h1M89.3 318.1h1M108.9 303h1M82.8 305.8h1M76.9 304.9h1M92.5 304.1h1M78.4 301.6h1M79.5 305.9h1M79.5 307.7h1M84.7 308.2h1M98.3 300.8h1M94.5 305.8h1M88.6 301.6h1M91.1 316.3h1M81 305h1M86.5 315.5h1M91.4 305.3h1M89.9 310.6h1M85 317.9h1M82.9 317.3h1M91.5 300.1h1M86.7 302.9h1M86.3 312.9h1M84.7 301.7h1M80.3 307.5h1M98.8 302.5h1M86.8 318h1M95.1 302.4h1M87.8 303.3h1M89.1 300.5h1M97.9 308.9h1M95.5 306.7h1M94.2 313.3h1M112.9 304.8h1M91.4 301.4h1M87.7 301.9h1M78 304.9h1M93.3 300.9h1M90.3 299.7h1M79.3 312h1M103 302.1h1M87.4 313.3h1M103.5 309.2h1M126.6 314.4h1M83.9 317.6h1M114.7 314.6h1M80.2 303.9h1M90.3 309.5h1M82.3 311.4h1M82.4 306.3h1M92.8 309h1M91.6 309.8h1M77.1 316.9h1M77.6 302.2h1M115.3 299.6h1M96.7 315.1h1M81.3 303.5h1M80.6 316.3h1M85.7 316.1h1M89.6 301.1h1M80 308.1h1" stroke="#f58af0" stroke-width="1" stroke-opacity="0.85" fill="none"/>
<path d="M97.8 303.6h1M98.5 311.6h1M88.4 312.5h1M77.4 317h1M86.3 310.4h1M102.5 313.2h1M89.4 301.7h1M79.8 302h1M108.5 314.6h1M87.1 315.2h1M104.6 317.3h1M101.3 310.1h1M83.9 304.6h1M85.1 314.3h1M77.4 300.7h1M123.7 300.7h1M100.9 301.3h1M95 314.9h1M78.6 311h1M93.2 308.8h1M101.4 305.4h1M83.7 313.8h1M120.9 299.9h1M106.7 300.6h1M81.5 300.6h1M79.1 300.1h1M84.1 304.4h1M98 312.2h1M97.1 304h1M103.9 317.3h1M112.2 306.1h1M85.5 317.5h1M107.6 305.1h1M84.8 308h1M105.5 301.8h1M83 306.8h1M89.1 306.6h1M106.8 303h1M97.9 304.3h1M80.5 311.8h1M95.8 314.8h1M83.9 302.8h1M96.7 306h1M89.6 301.3h1M104.3 301.5h1M95.1 299.9h1M93.9 313h1M95.4 317.7h1M92.2 300.6h1M80.5 309.4h1M114.6 303.1h1M97.9 303.8h1M95.7 299.7h1M89.2 307.9h1M101.9 313.5h1M97.9 309.6h1M97.9 306.2h1M94.3 310.8h1M89.1 305.8h1M77 302h1M87.4 314h1M81.9 304.1h1M78.1 301h1M87.4 318.1h1M85.2 299.9h1M79.9 313.9h1M96.9 304h1M93 307.5h1M86.5 315.1h1M111.8 304.9h1M91.8 306.6h1M88.4 300.5h1M99.1 300.6h1M102.5 314.6h1M110.1 310.1h1M97.7 311.8h1M101.5 308.7h1M105.2 308.9h1M110.5 300.3h1M84.3 316.4h1M79.1 302.6h1M80.4 315.6h1M103.5 318.2h1M84.3 316.2h1M101.6 301.3h1M90.3 302.2h1M97.5 311.6h1M89.6 310.5h1M80.8 300.3h1M82.4 302.1h1M97.7 301h1M77.7 305h1M96.2 306.2h1M99.5 317.3h1M124.6 315.2h1M78.5 313.7h1M88.6 301.2h1M78.9 310.7h1" stroke="#b8209c" stroke-width="1" stroke-opacity="0.8" fill="none"/>
<path d="M100 306.7h1M110.9 314.3h1M85.8 299.9h1M93.9 316.9h1M104.4 304.6h1M102.7 315.1h1M108.2 314.9h1M96.9 314.9h1M89.2 310.9h1M97.8 311.5h1M109.9 300.5h1M99.7 307.4h1M98.6 311h1M108.7 304.6h1M103.8 312.1h1M89.8 309.7h1M98.1 311.8h1M111.7 315.3h1M84.5 305.7h1M108.3 311h1M95.8 300.5h1M107.9 314.2h1M90.8 314.5h1M105.6 312.2h1M110.6 312.3h1M86.6 309.9h1M112.8 305.6h1M88.5 314.2h1M83.4 302h1M109.7 310.2h1M101.8 301.6h1M84.9 313.2h1M105.6 308.8h1M101.7 311.2h1M113.7 302.7h1M113.3 307.2h1M111 311.7h1M102.1 307.7h1M109.6 312.8h1M107.6 301.2h1M94.7 306.2h1M107.9 301.6h1M95.4 313.1h1M99.2 306.8h1M87.3 313.3h1M89.7 313.4h1M101.5 300.3h1M110.1 311h1M109 314.3h1M90.5 316.4h1M102.7 301.2h1M95.8 301.3h1M92.3 307.7h1M97.6 313.3h1M106.2 301.6h1M112.1 317.8h1M88.1 312.6h1M95.4 299.9h1M107.9 313.2h1M101.4 307.5h1" stroke="#fde4fa" stroke-width="1" stroke-opacity="0.9" fill="none"/>
</g>
<g stroke="#111" stroke-width="1.25" fill="none">
<rect x="45.2" y="180.5" width="153.4" height="142"/>
<path d="M75.8 180.5V322.5M45.2 298.4H198.6" stroke-width="1.4"/>
</g>
<path d="M33.4 287.5H45.2M33.4 251.7H45.2M33.4 215.9H45.2M33.4 180.1H45.2M83.2 322.5V334M121.8 322.5V334M160.4 322.5V334M199 322.5V334" stroke="#111" stroke-width="1.1" fill="none"/>
<path d="M41.6 312.5H45.2M56.2 323.1V325.4M41.6 306.2H45.2M63 323.1V325.4M41.6 301.7H45.2M67.8 323.1V325.4M41.6 298.3H45.2M71.6 323.1V325.4M41.6 295.4H45.2M74.6 323.1V325.4M41.6 293H45.2M77.2 323.1V325.4M41.6 291H45.2M79.5 323.1V325.4M41.6 289.1H45.2M81.4 323.1V325.4M41.6 276.7H45.2M94.8 323.1V325.4M41.6 270.4H45.2M101.6 323.1V325.4M41.6 265.9H45.2M106.4 323.1V325.4M41.6 262.5H45.2M110.2 323.1V325.4M41.6 259.6H45.2M113.2 323.1V325.4M41.6 257.2H45.2M115.8 323.1V325.4M41.6 255.2H45.2M118.1 323.1V325.4M41.6 253.3H45.2M120 323.1V325.4M41.6 240.9H45.2M133.4 323.1V325.4M41.6 234.6H45.2M140.2 323.1V325.4M41.6 230.1H45.2M145 323.1V325.4M41.6 226.7H45.2M148.8 323.1V325.4M41.6 223.8H45.2M151.8 323.1V325.4M41.6 221.4H45.2M154.4 323.1V325.4M41.6 219.4H45.2M156.7 323.1V325.4M41.6 217.5H45.2M158.6 323.1V325.4M41.6 205.1H45.2M41.6 198.8H45.2M41.6 194.3H45.2M41.6 190.9H45.2M41.6 188H45.2M41.6 185.6H45.2M41.6 183.6H45.2M41.6 181.7H45.2" stroke="#111" stroke-width="1.05" fill="none"/>
<text x="24.8" y="284.3" font-size="9.2">10<tspan dx="0.5" dy="-2.0" font-size="9.7">0</tspan></text>
<text x="24.8" y="248.5" font-size="9.2">10<tspan dx="0.5" dy="-2.0" font-size="9.7">1</tspan></text>
<text x="24.8" y="212.7" font-size="9.2">10<tspan dx="0.5" dy="-2.0" font-size="9.7">2</tspan></text>
<text x="24.8" y="176.9" font-size="9.2">10<tspan dx="0.5" dy="-2.0" font-size="9.7">3</tspan></text>
<text transform="translate(84.7 334.4) scale(.9 1)" font-size="10.4">10<tspan dx="0.5" dy="-2.4" font-size="10.8">0</tspan></text>
<text transform="translate(123.3 334.4) scale(.9 1)" font-size="10.4">10<tspan dx="0.5" dy="-2.4" font-size="10.8">1</tspan></text>
<text transform="translate(161.9 334.4) scale(.9 1)" font-size="10.4">10<tspan dx="0.5" dy="-2.4" font-size="10.8">2</tspan></text>
<text transform="translate(179.4 334.4) scale(.9 1)" font-size="10.4">10<tspan dx="0.5" dy="-2.4" font-size="10.8">3</tspan></text>
<text transform="translate(45.8 192.1) scale(.9 1)" font-size="13">C1</text>
<text transform="translate(77.2 192.1) scale(.9 1)" font-size="13">C2</text>
<text transform="translate(45.4 310.5) scale(.9 1)" font-size="13">C3</text>
<text transform="translate(77.2 310.5) scale(.9 1)" font-size="13">C4</text>
<text x="122" y="207.7" font-size="12" textLength="43.6" style="stroke-width:.4px">hu14.18</text>
</g>
<g class="pa">
<g filter="url(#bl)">
<rect x="49.6" y="469.4" width="25.3" height="19.1" fill="#70cc1c" fill-opacity="0.8"/>
<rect x="49.6" y="472.9" width="14" height="15.6" fill="#70cc1c"/>
<path d="M63.7 484.4h1M71.3 471.3h1M71.9 485h1M70.8 486.6h1M65.3 478.1h1M63.8 485.8h1M60.3 473.5h1M63.5 470.1h1M67.2 477.5h1M66.8 471.6h1M60.7 471.8h1M73.3 477.4h1M63.9 487h1M61.1 478.8h1M64.4 487.3h1M68.4 478.6h1M70.8 477.8h1M61.1 469.8h1M63.1 470.9h1M58.7 485.2h1M67.8 481.8h1M74.9 479.6h1M72.7 485.5h1M73.4 481.2h1M74.1 474.5h1M64.7 485.1h1M71.1 482.6h1M68.1 470.9h1M67.2 484.5h1M72.4 476h1M70.1 484.7h1M70.8 484.3h1M65.6 485.8h1M74.3 471.5h1M71.2 482.7h1M70.9 475.1h1M72.4 484.9h1M74 471.5h1M63.7 485.3h1M65.5 487h1M74.6 478.8h1M71.4 479.3h1M73.8 480.5h1M66.7 485.6h1M74.8 471h1M68.3 484.8h1M72.9 475.7h1M74 476.8h1M69.5 485.2h1M68.1 471.6h1M69.2 472h1M62.5 481.7h1M60.8 482.6h1M74.4 473.5h1M71.2 482h1M61.2 475.9h1M70.4 469.9h1M65.2 474.1h1M73.3 472.3h1M67.2 477.6h1M58.2 477.6h1M71.3 476.4h1M74.8 485.9h1M72.2 476.4h1M74.5 472.9h1M61.8 486.5h1M66 481h1M72.6 486.6h1M68.7 477.6h1M63.7 480.4h1M66.9 475.3h1M65.9 486.8h1M71.8 474.4h1M72.6 486.3h1M72.2 475.6h1M71.4 483.3h1M72.3 481.1h1M74.1 483.5h1M65.5 473.1h1M65.8 487.5h1M74.7 478.4h1M73.7 470.8h1M71.3 481.8h1M72.8 470.8h1M71.1 481.1h1M66.3 482.4h1M70.1 473.1h1M65.1 471.5h1M61.7 471.8h1M66.8 481.3h1M73 482.9h1M62.8 486h1M59.7 475.3h1M65 471.2h1M72.7 480.8h1M73.7 484.5h1M65.7 482.5h1M74.5 478.3h1M68.9 474.3h1M71.6 482.6h1M71.4 484.9h1M68.5 473.4h1M73.3 482.3h1M73.9 483.4h1M68.9 487.4h1M66.2 476.2h1M74.3 476.5h1M71.7 470.2h1M67.2 472.3h1M63.4 482.9h1M67.7 474.3h1M68.5 485.9h1M73 475.2h1M71.8 483.8h1M69.4 475.9h1M74 483.1h1M70.4 477.3h1M73.5 473.2h1M60.5 473.1h1M61.1 474.6h1M73.5 471.6h1M72.1 485.1h1M65.4 486.1h1M62.3 483.8h1M60.8 469.5h1M66.5 485.4h1M73.8 483.8h1M64.1 484.6h1M65.2 480.8h1M73.2 473.2h1M63.9 474.8h1M65 476.4h1M72.3 472.7h1M73.5 469.9h1M74.3 486.7h1M59.7 476.4h1M66.7 480.4h1M70.7 471.3h1M66.7 484.9h1M72.2 483h1M64.8 470.1h1M70.6 473h1M63.4 482.9h1M63.1 470.4h1M72.8 469.8h1M70.9 471.5h1M70.1 472h1M67.4 483.4h1M71.4 483.6h1M74.4 479.8h1M67.4 474.9h1M59.8 483.6h1M65.4 480.9h1M72.7 470.5h1M66.1 472.8h1M72.4 482h1M64.3 479.6h1M70.5 476.5h1M67.3 479h1M69.7 473.8h1M67.4 480h1M70.5 471.9h1M72.2 487.3h1M71.8 484.3h1M68.3 478.4h1M59.3 487.1h1M73.2 481.7h1M61.9 479.9h1M67.5 481.1h1M72.7 482.1h1M74.7 487.3h1M72.1 483.6h1M62.1 473.7h1M74.6 470.5h1M59.8 486.1h1M59.3 482.8h1M72.2 479.9h1M74.1 478.3h1M71 486.6h1M73.7 470.2h1M71.1 472.2h1M61.2 475.1h1M70.8 487.5h1M72.5 482h1M69.2 480.3h1M71.9 475.6h1M68.8 472.3h1M61.8 469.7h1M73.5 472h1M64.4 472.5h1M64.3 478.6h1M62.5 476h1M67 487.1h1M67.8 486.1h1M64.2 479.5h1M63.4 472.4h1M68.6 475.1h1M57.7 469.9h1M69.1 481.4h1M61.9 476.4h1M62.7 486.2h1M62.3 475.1h1M73.4 484.8h1M73 476.5h1M74.8 481.2h1M72.9 475.8h1M69.3 484h1M67.7 473.5h1M70.4 472.3h1M70.9 470.3h1M74.8 476.3h1M66.8 482.7h1M73.9 477.8h1M74.4 484.7h1M74.5 480h1M70.9 479.1h1M70.7 478.4h1M74.9 470.1h1M68 480.1h1M72.6 472.9h1M61.1 470.9h1M65 471.2h1M69.3 472.4h1M72.2 480.6h1M63.8 474.6h1M73.1 474.7h1M70.2 476.9h1M62.7 486.7h1M59.4 474.1h1M67.8 474.8h1M73.1 473.9h1M74.7 475.1h1M72.4 474.8h1M64.8 484.4h1M73.9 487.1h1M63.2 476.5h1M67.8 485.1h1M71.4 471.3h1M66.8 478.1h1M66.7 484.3h1M68.3 471h1M74 487.5h1M68.8 476.6h1M61.3 478.4h1M67.1 486.5h1M70.4 486h1M69.8 473.2h1M74.5 477.7h1M69.4 482.7h1M72.8 477.7h1M72.3 486.4h1M68.8 473h1M68.1 487.1h1M68.7 480.6h1M62.3 480.5h1M61.3 481.8h1M62.1 474.2h1M62.6 477.4h1M61.1 473.4h1M67.7 484h1M63 475.4h1M74.7 472h1M67.9 485.5h1M56.9 475.6h1M71.3 486.6h1M71.9 477.5h1M74.4 481.2h1M65.1 483.6h1M66.5 478.7h1M72.3 486.5h1M70.9 484.1h1M70.9 485.5h1M74.3 479h1M74.9 471.7h1M57.4 472.5h1M67.6 472h1M74.3 479.1h1M58.2 486.6h1M66.8 479.4h1M72.5 477.2h1M60.9 471.4h1M70.4 476.2h1M74.1 472.7h1M69.7 477.7h1M56.9 477.7h1M62.1 486.3h1M67.9 476.6h1M57.7 485.4h1M71.3 470.2h1M65.6 475.7h1M66.9 482.5h1M72.7 477.5h1M72.1 470.8h1M72.9 475.9h1M64 479.4h1M66.9 486.7h1M71 473.7h1M69.3 471h1M72.9 483.1h1M68 480.5h1M74 475.7h1M64.7 476.5h1M71.2 475.3h1M72.9 481.4h1M74.8 485.1h1M67.5 474.8h1M73.7 485.9h1M70.6 477h1M71.1 478.3h1M65.4 474h1M73.7 471h1M60.6 473h1M74.8 473.9h1M70.1 477.3h1M70.3 478.3h1M63.7 484.7h1M71.5 475.9h1M63.2 483.3h1M73.2 474h1M72.3 478.1h1M63.5 470.8h1M72.7 485.5h1M71 475.8h1M66.1 481h1M71.3 479.6h1M71.7 478.2h1M69.2 473.7h1M71.7 484.3h1M72.8 478h1M73.8 471.8h1" stroke="#f4fbe8" stroke-width="1" stroke-opacity="0.95" fill="none"/>
<path d="M50 437.1h1M61.1 454.9h1M62.8 465.8h1M54.8 463.3h1M53.7 465.6h1M70.1 411.8h1M66.1 430.7h1M51.2 448.3h1M69.5 454.7h1M48.8 450h1M70.5 458.7h1M70.3 433.4h1M50.6 448.2h1M74.6 465.2h1M72 401.4h1M52.1 461.1h1M65.2 461.1h1M60 455.9h1M51.2 458.6h1M52.9 458.1h1M52.9 457h1M65.7 465.6h1M63 444.1h1M74 458.9h1M55.7 465.2h1M60.5 464.1h1M57.5 464.3h1M57.7 466.6h1M63.3 461.8h1M68.9 458.3h1M66.1 451.4h1M50.4 448.8h1" stroke="#e63050" stroke-width="1" stroke-opacity="0.8" fill="none"/>
<path d="M64.5 462.1h1M68.2 455.3h1M71.1 461.1h1M57.2 464.6h1M59.9 458.9h1M48.5 465.6h1M61.5 467.1h1M55.6 461.5h1M61.7 397h1M63.8 465.7h1M51.9 458.1h1M49.3 446.6h1M66.9 403.5h1M67.1 448.3h1M74.5 463.5h1M61.1 462.9h1M49.1 455.9h1M49.3 465.1h1M74 453.3h1M67.5 464.2h1M51.8 426.5h1M58.9 448.3h1M52.6 434.8h1M68.6 466.7h1M67.4 455.4h1M72.8 459.3h1M65.3 446.6h1M58.4 437.3h1M72.4 455h1M57.8 458.4h1M67.5 448.7h1M53.3 448.3h1M54.8 461.1h1M63.9 454.6h1M55.3 447.8h1M70.9 458.8h1M61.5 463.2h1M72.8 455.5h1M63.8 444.2h1M63.1 461.2h1M61.2 441.8h1M52.6 465.8h1M56.9 444.7h1M71.9 456.4h1M65.9 466.8h1M68.5 456.5h1M58.7 462.6h1M52.8 461.4h1M69.1 461.5h1M58.7 437.5h1M68.7 453.5h1M49.1 461.7h1M56.9 460.5h1M65.1 454.8h1M72.9 439.8h1M52.7 466.2h1M74.3 461.5h1M65.8 443.3h1M52.7 463.2h1M47.6 466.5h1M72.8 457.8h1M65.8 444.1h1M67.1 447.4h1M58.6 448.1h1M49.6 455.3h1M60.4 454.1h1M65 457.7h1M54.9 448.1h1M73.7 455.2h1M68.6 424.3h1M47.7 464.7h1M55.3 465.6h1M72.1 457.5h1M67.8 464.9h1M69.3 438.9h1M52.4 450.1h1M71.5 465.3h1M65.4 456.1h1M58.4 449.6h1M66.1 467.1h1M53.9 449.8h1M72 452.3h1M49.4 463.5h1M54.6 466.1h1M67 455.7h1M58.7 450.5h1M71.6 441.4h1M70 462.9h1M66 449.6h1M57.1 461.8h1M59.3 461.1h1M56.3 441.2h1M55.8 461.6h1M47.5 462.9h1M54.3 444.7h1M66.4 455.4h1M62.2 465.4h1M56.3 454.9h1" stroke="#f0809a" stroke-width="1" stroke-opacity="0.8" fill="none"/>
<path d="M97.7 446.4h1M98.5 458h1M89.7 457.5h1M87.9 465.3h1M76.9 463h1M87.2 465.5h1M97.3 455.8h1M96 454.3h1M81.4 453.2h1M94.1 451.7h1M86.7 456.4h1M84.2 457.1h1M95.3 460.2h1M87.5 461.8h1M92.7 464.3h1M77.7 464h1M92.2 451.2h1M100.6 454.9h1M77.8 458.3h1M86.4 452h1M99.6 464.3h1M87.5 459.1h1M89.8 461.3h1M86.9 453.3h1M104.4 464h1M98.9 461.9h1M98.8 462.7h1M83.5 461.7h1M88.9 454.3h1M94.6 454.3h1M96.1 453.6h1M96.6 449.2h1M96 462.4h1M85.2 465.2h1M95 448.8h1M90.3 460.5h1M89 454.4h1M98.9 452.3h1M93.7 454h1M101.8 461.2h1M93.7 457.5h1M91.5 458.6h1M91 457.6h1M104.1 449.3h1M78.6 453.2h1M93.9 460.8h1M79.4 464.9h1M78.1 463.3h1M97.1 461.8h1M86.2 458h1M92.2 460.1h1M90.3 457.4h1M87.1 451.3h1M77.3 465.8h1M90.2 463h1M77.9 454.4h1M83.9 456.3h1M88.2 456h1M93.7 466.3h1M88 455.7h1M89.9 457h1M91.5 463.9h1M90.2 458.7h1M82.4 465.6h1M82.5 464.6h1M96.5 448.2h1M105.7 457.6h1M84.9 459.2h1M98.3 456.9h1M91.4 460.6h1M92.9 450.4h1M93.5 466h1M105.8 454.7h1M88.6 459.2h1M84 455.1h1M112.2 458.7h1M94.3 462.6h1M81.7 466h1M88 465.1h1M78.8 463.9h1M93 458.1h1M87.9 464h1M87.9 462.8h1M84.7 460.2h1M98.4 455.3h1M89.5 454h1M88 459.2h1M89.1 448.3h1M92.6 464.6h1M93.4 454.4h1M81.4 455.1h1M89.9 461.3h1M84.4 458.4h1M86.1 444.1h1M100 461h1M85.9 462.7h1M98.5 453h1M97.7 457.6h1M79.6 460.1h1M83.1 450.3h1M82.5 449.4h1M97.3 466.2h1M86.4 461.7h1M91.6 455.6h1M97.1 454.1h1M97.7 461.3h1M84.2 462h1M85.5 443.2h1M94.9 458.4h1M108.6 449.6h1M96.9 453.9h1M94.8 460.4h1M102.3 448.5h1M82.7 464.9h1M97.2 458.1h1M84.8 456.6h1M86 466h1M93.2 463.6h1M100.7 458.1h1M88.3 454.2h1M97.4 462.6h1M92.8 455.5h1M92.3 452.8h1M82.6 461.4h1M90 451.7h1M77.3 464.5h1M93.2 453.3h1M86.4 457.9h1M89.8 460.5h1M85.2 457.6h1M97.4 465.6h1M83.5 460.6h1M85.6 461.8h1M79.5 462.3h1M85.1 460.9h1M88.9 459h1M94.6 457.4h1M80.1 461.2h1M93.5 459.7h1M97.8 460.5h1M77.5 451.8h1M91.5 451.5h1M96.8 451h1M89 457.5h1M82 463.6h1M90.7 454.2h1M80.6 462.7h1M93.2 459.2h1M85.4 456.7h1M87.5 464.3h1M101.7 463.9h1M99.2 460.1h1M91.5 459.6h1M93.9 453.4h1M83.5 461.9h1M94.6 462.5h1M84.4 463.7h1M91.8 460.9h1M82.2 454.9h1M104.8 451.6h1M83.3 464.6h1M91.7 454.2h1M82.3 462h1M103.8 455.8h1M88.7 462.7h1M84.6 461.4h1M106.6 451.6h1M94.3 465.4h1M78.6 465.5h1M87.4 455.4h1M92.4 459.4h1M79.2 461h1M99.1 452.4h1M92.1 464.7h1M87.3 455.5h1M89.8 459.3h1M85 456.5h1M84.8 463.8h1M98.1 455.1h1M88.8 458.9h1M81.9 461.1h1M89.5 443.5h1M80.4 466.6h1M86.1 455.4h1M95.4 444.2h1M99 466.3h1M105.8 454.7h1M81.5 458.7h1M90.1 452.6h1M92.8 466.2h1M82.9 466.2h1M98.6 451.8h1M94.8 457.2h1M80.4 449.7h1M101.7 462.1h1M80.9 458h1M102.2 459.5h1M84.7 462.6h1M90.2 463.3h1M92.2 454.3h1M90.1 459.4h1M100.4 455.2h1M98.5 452.3h1M90.7 457.3h1M95.7 465.2h1M90.6 460.5h1M83.5 454.3h1M93.8 456.1h1M86.3 460.7h1M92.9 450.1h1M86 453.9h1M98.4 453.7h1M85.7 456.4h1M104.3 452.9h1M81.9 461.3h1M85.8 446.5h1M79.3 458.4h1M82.2 460h1M90.1 458h1M111.5 464.9h1M102.1 453h1M95.2 454.7h1M92 461.4h1M89.7 462.1h1M90.7 448.1h1M98.6 451.6h1M83.9 463.4h1M88.5 461.5h1M104.8 454.5h1M97.2 452.7h1M89.4 461.6h1M88.5 460.2h1M102.3 445.4h1M93 451.7h1M82.7 456.8h1M85.8 457.6h1M80 466.2h1M84.4 455.9h1M93.9 459.6h1M87.4 455.8h1M80.2 461.5h1M86 461h1M99.1 463.1h1M91.9 465.4h1M88.1 451.1h1M97.8 451.4h1M91.1 459h1M81.9 455.9h1M84.2 454.7h1M78.4 463.7h1M91.1 457.9h1M97.9 458.5h1M97.9 451.4h1M84.5 459.2h1M101.3 462h1M92.2 451.9h1M90.7 465.7h1M93 452.8h1M90.9 454.1h1M86 457h1M92.5 460.2h1M96.1 463.3h1M92.6 452.7h1M91.3 464h1M85.4 458.7h1M85.1 464.2h1M83.6 464.1h1M93.7 454.4h1M88.9 451.3h1M96.2 460.8h1M100.4 450.8h1M106.5 446h1M86.3 461.1h1M86 454.3h1M82.4 457.8h1M83 464.8h1M96.8 465.1h1M95.5 462.8h1M88.7 460.1h1M82.9 466.3h1M89.2 459h1M88.1 461h1M89.1 453h1M109.6 447.2h1M94.9 464.4h1M98.4 459.8h1M93.5 455.6h1M77 458h1M92.4 465.3h1M100.1 454.7h1M79.7 450.2h1M104.9 453.7h1M93.1 457.8h1M99.8 462.6h1M99.3 456.3h1M85 461.7h1M90.9 457.1h1M82.7 466.5h1M87 453.9h1M89.8 463h1M93.8 466.5h1M111.6 463.1h1M87.7 453.2h1M105.7 455.9h1M84.4 461.2h1M90.3 460.2h1M96.1 463.4h1M84.2 461.9h1M106.3 458.9h1M90.3 452.4h1M100.6 442.3h1M89 451.7h1M86.2 451.9h1M80.5 463.7h1M87.9 465.2h1M100.6 464.3h1M89.5 461.1h1M94.9 461.2h1M79.9 461.6h1M83.6 460.2h1M98.2 452.4h1M86.2 465.2h1M79 461.3h1M92 458.7h1M84.2 462h1M92.5 447.7h1M98.9 463.9h1M91.2 461.7h1M78.1 463.1h1M90.6 447.6h1M88.3 463.3h1M91.9 465.9h1M98.6 456.9h1M85 461.5h1M80.7 464.9h1M87.4 454.1h1M89.9 457.9h1M86.6 458.6h1M84.7 462h1M100.4 450h1M92.9 449.4h1M94 463.1h1M92.5 444.8h1M94.9 458.4h1M95.1 462.1h1M77.6 465.6h1M77 459.9h1M84.1 454.5h1M86.2 457.6h1M84.3 455.4h1M87.9 461.4h1M91.6 453.2h1M97.6 452.4h1M85.8 461h1M92.8 459.8h1M84.3 466.2h1M86.6 462h1M94.1 461h1M91.5 464.1h1M85.6 462.5h1M86 465.9h1M96.3 465h1M86.7 460.2h1M101.8 452.2h1M104 456.9h1M79.3 453.7h1M90.8 461.3h1M104.1 457.6h1M103.1 459.3h1M85.8 457.3h1M101.1 450.8h1M89.7 458.8h1M93.5 456.1h1M79.9 459.4h1M92.3 461.1h1M92 464h1M79.3 446.4h1M94 461.5h1M102 461.2h1M108.1 457.8h1M90.5 452.4h1M92.5 456.3h1M93.5 448.3h1M96.2 462h1M93.2 455.2h1M92.5 458.9h1M84.3 463.8h1M101.7 457h1M88.4 461.1h1M81.1 462.4h1M91.4 461.1h1M89.3 461.6h1M112 454.6h1M101.7 452.3h1M106.5 460.4h1M93.3 456.4h1M92.8 462.6h1M83 462.7h1M78.1 460.4h1M82.3 459.7h1M82 459.6h1M97.1 464.9h1M94.9 448.8h1M84.2 461h1M92.4 457h1M92.1 459.2h1M96.8 455.2h1M83 457.4h1M77.4 459.2h1M91.6 460.6h1M97.3 462.3h1M83.7 453.6h1M83.8 457.1h1M84.5 452.7h1M76.8 451.1h1M94.5 465.2h1M84.4 460.3h1M90.1 456.5h1M87.5 455.9h1M95 460.4h1M92 452.9h1M92.8 455.4h1M86.7 458h1M88.9 455.1h1M80 465.7h1M92.8 459.6h1M85.4 451.7h1M90.5 449.2h1M98.8 463h1M95.1 451.1h1M80.1 463.4h1M92.1 460.6h1M88 458.5h1M85.5 457.3h1M91.7 462.6h1M97.2 453.7h1M100.6 458h1M81.6 459.1h1M79.5 459.4h1M81.3 456.3h1M100.3 449.7h1M91.3 454.3h1M100.9 459.9h1M95.5 465.1h1M107.5 446.3h1M77.8 461.4h1M78.7 462.5h1M90.6 453.9h1M94.2 464.5h1M87.7 456.3h1M92.8 461.2h1M97.7 454.7h1M88.6 450.4h1M82.7 456.1h1M99 462.2h1M100.1 457.4h1M85.2 460.6h1M101 453.8h1M84.6 459.1h1M99.8 459.3h1M99.1 456.9h1M88.5 449h1M81.2 455h1M91.4 460.3h1M100.2 464.2h1M107.5 453.7h1M100 443.1h1M101.3 456.3h1M93.3 452.8h1M92.5 447.9h1M93.9 450.3h1M91.1 455.9h1M106.7 445h1M78.8 462.4h1M88.3 455.2h1M95 455.5h1M100 452h1M103.9 452.9h1M104.1 454.9h1M77.3 455.5h1M83.4 459.9h1M79.2 461.5h1M91.3 456h1M84.2 462.7h1M93.1 455.3h1M103.3 447.3h1M90.3 455.6h1M81.9 451.6h1M80 460.2h1M92.1 462.9h1M86.9 460h1M89.9 463.6h1M111.4 441h1M97 460h1M90.7 463.8h1M100.6 451h1M84.8 461.3h1M94 458.1h1M98.7 457.9h1M93.2 464.7h1M99.1 459.6h1M98.1 456h1M84.3 461.4h1M83.3 458.6h1M80.3 461h1M95.2 454.8h1M88.1 454.2h1M83.4 461.6h1M81 454h1M99.6 451.3h1M97.5 453.4h1M97.2 458.1h1M95.7 458.9h1M102.2 460.4h1M86 459.1h1M101.5 453.8h1M94.9 457.4h1M94.1 452.7h1M99.4 451.9h1M86.5 459.7h1M97.7 456.5h1M93.6 455.9h1M110.5 452.5h1M88.9 452.9h1M92.4 451.7h1M81.7 463.7h1M88.7 450.7h1M98.1 456.2h1M84.4 448.7h1M97.5 455.8h1M109.7 452.2h1M90 450h1M84.9 460.1h1M93.8 447.8h1M91.2 458.5h1M106.8 455.3h1M104 459.7h1M86.9 459.2h1M85.7 457.3h1M95.2 466.4h1M96.8 460h1M97 454.4h1M79 457.2h1M81.2 449.6h1M97.8 451.3h1M85.1 466.2h1M96.8 453.8h1M84.1 451.8h1M78.5 461.4h1M90.5 452.2h1M93.2 455.2h1M84.9 462.2h1M99.6 458.4h1M81.3 459.7h1M91.7 457h1M103.3 451.8h1M87.7 458.1h1M92.9 461h1M81.3 458.1h1M90.3 462.8h1M109.7 456.2h1M94.2 462h1M89.6 457.3h1M91.4 459.8h1M82.4 461.4h1M96.8 450.1h1M99.8 458h1M101.8 461.8h1M88.7 458.9h1M78.6 462.9h1M94.5 461.2h1M81.3 457.2h1M99.3 452.2h1M83.3 464.1h1M82.7 458.7h1M84.2 466.4h1M94.5 451.5h1M92.4 460.1h1M79.6 465.4h1M93.1 453.1h1M87.6 456.9h1M92.7 462.5h1M90.5 465.1h1M92.7 451.8h1M95.7 444h1M93.4 457.5h1M91.3 458.3h1M90.4 455.6h1M100.7 461.7h1M93.5 465.3h1M103.9 463.3h1M89.4 458.6h1M81.5 455.5h1M88 465h1M87.9 445.5h1M93.9 454.3h1M81.8 459.8h1M100.4 457.1h1M88.8 464.7h1M92.3 464.8h1M80.5 453h1M90.2 464.1h1M95.2 460.8h1M99.3 453.8h1M91.1 452h1M100.5 454.5h1M84.4 458.3h1M96.8 449.5h1M80.2 457h1M89.3 464h1M78.8 462.9h1M91.5 449h1M82.1 463h1M92 455.3h1M87.7 460.8h1M81.4 460.7h1M89.3 457.6h1M92.4 462.8h1M83.7 453.4h1M89.8 458.7h1M86.8 461.4h1M93.1 464.2h1M104.3 465.2h1M91 451.9h1M86 462h1M86.6 461.3h1M98.4 464.9h1M89.9 456.1h1M100.8 448.5h1M93.5 457.1h1M92 445.7h1M105.9 449.2h1M79.4 457.8h1M100.9 453.2h1M89.5 455.4h1M84.1 462.3h1M94.6 462.5h1M95.6 465.9h1M77.9 462.5h1M81.6 458.1h1M90.5 456.9h1M88.5 460.5h1M94.6 462.5h1M77.1 463.3h1M102 455h1M90.5 462.1h1M95.5 458.3h1M99.5 461.2h1M108.3 445.8h1M93.9 458.7h1M90.5 462.7h1M93.4 460.6h1M106 455.6h1M90 450.3h1M97.2 458.9h1M83.6 458.8h1M84.5 462.5h1M85.6 461.8h1M90.7 453.1h1M107.1 463.3h1M80.7 452.7h1M91.6 459.8h1M77 460.9h1M86.2 460.6h1M86.5 456.8h1M86.4 462.6h1M107.2 458h1M77.1 461.1h1M92.3 456.3h1M98.1 459.4h1M82.8 459.7h1M80 462.1h1M91.5 447.3h1M80.6 458.3h1M79.2 458.1h1M94 459.1h1M79.3 458h1M83.8 458.4h1M81.8 463.5h1M92.4 461.7h1M79 465h1M83.4 456.7h1M84.5 457.4h1M90.3 464.1h1M91.4 447.9h1M91.7 462.7h1M84.4 457.5h1M81.4 463.3h1M80.3 460.1h1M93.2 456.4h1M85.5 466.3h1M85.7 461.9h1M101.1 453.7h1M99.2 455.4h1M111.2 457.2h1M94.6 455.5h1M97.7 463.5h1M91.6 459.2h1M95 458.5h1M97.4 463.5h1M89.2 462h1M87.2 463.8h1M103.6 460.5h1M86.6 458.5h1M94.5 453h1M93.7 458h1M95.9 457.4h1M85.8 458h1M86.6 462.8h1M92.1 463.2h1M78 466.6h1M97.2 459.4h1M106.2 451.6h1M91.4 461.3h1M99.5 451.6h1M95.5 453.3h1M83.9 462.2h1M97 463.5h1M83.2 450.7h1M98.3 457.7h1M86.3 463.4h1M84.5 457.1h1M86.5 454.1h1M93.1 452h1M94.7 454.7h1M88.7 455.2h1M79.6 462.8h1M101.2 458.8h1M104.2 460.7h1M84 456.6h1M105.2 448.1h1M102.9 459h1M98.4 453.1h1M85.6 462h1M86.7 459.7h1M81.2 458.4h1M81.7 456.4h1M84.9 454.9h1M92.7 461.5h1M92.7 451.4h1M77.7 460.9h1M82.6 460.3h1M101 453.6h1M100.4 457.9h1M101.8 462.6h1M77 455.2h1M98.5 456.4h1M99.6 452.8h1M89.9 463.3h1M95.9 455.6h1M97.9 457.1h1M84.6 462.8h1M99.1 453.7h1M103.3 451.4h1M95.5 461.4h1M91.2 454.4h1M89.9 458.4h1M83.1 457.6h1M96.7 445h1M77.1 458.6h1M90 452h1M81.1 460.7h1M78 461.6h1M89.4 464.5h1M78.7 458.1h1M92.2 457.5h1M105.8 454.7h1M88 463.8h1M100.9 454.1h1M89.1 466.5h1M95.5 460.5h1M91.8 456.1h1M100.1 451h1M94.4 464.5h1M85.8 463.2h1M91.8 457.5h1M91.4 463h1M91.6 464.5h1M106.3 455.1h1M93.7 457.2h1M94.6 460.8h1M92.2 462.1h1M96.3 456.9h1M92.7 458.7h1M92 457.4h1M92.8 465.6h1M85.8 458.9h1M99 447.1h1M98.1 465.4h1M88.3 459.1h1M87.6 455.9h1M87.9 460h1M100.6 449.7h1M92.1 462.4h1M97.3 455.7h1M78.2 455.9h1M94 454.4h1M90.2 455.9h1M90.2 465.8h1M89.7 466.1h1M79.7 461.5h1M86.3 459.1h1M83.4 460.9h1M86.5 451.4h1M89.4 461.6h1M93.6 457.7h1M80.1 461.8h1M88.9 455.4h1M86.6 460.6h1M96.1 454.8h1M101 455.1h1M105.6 462.9h1M97.3 446.8h1M96.4 462.6h1M84.9 466h1M104.2 452.9h1M79.4 464.7h1M78.2 459.4h1M93.1 452.7h1M105.7 455.4h1M80.1 446.2h1M91.6 456.5h1M96.5 462.5h1M81 458.8h1M87.5 451.4h1M77.8 463.8h1M95.8 455.1h1M85.7 464.8h1M88.8 464.5h1M93.2 453.8h1M85.7 464.1h1M97.6 454.5h1M93.9 453.6h1M76.9 461.1h1M95.9 459.6h1M89.3 461h1M100.3 453.3h1M90 454.4h1M92.8 456h1M84.4 453.3h1M92.4 466.3h1M93.5 454.2h1M89.4 459.2h1M82.7 460.8h1M78.3 462h1M95.4 446h1M98.3 461.8h1M90.3 458.7h1M98.9 450.9h1M89 461.5h1M96.3 462.2h1M82 454.6h1M83.5 457.3h1M90.9 460.2h1M94 463.9h1M93.9 454.4h1M86.7 461.3h1M86.7 460.2h1M97.2 459.6h1M91.1 464.7h1M78.2 464.3h1M93.6 454.7h1M88.7 447.8h1M85.5 464h1M92.5 464.4h1M89 459.8h1M81.9 450.3h1M92.6 453.5h1M85 466.6h1M86.9 452.5h1M89.4 462.3h1M102.2 458.6h1M87.4 462h1M101.8 459.6h1M87.9 454.6h1M93.3 456.3h1M85.9 456.3h1M97.3 458.1h1M94.4 461.8h1M82.6 466h1M95 453h1M102.3 451.8h1M81 463.3h1M80.9 460.2h1M80.2 464.7h1M97.3 465.8h1M90.8 462.8h1M90.2 464h1M85 455h1M88.4 463.7h1M85.6 460.8h1M88.8 461.7h1M94.1 449.8h1M86 466.3h1M83.7 453.2h1M92 460h1M80.5 462.5h1M86.1 463.3h1M94.4 451.4h1M85.4 461.2h1M82.6 461.5h1M96.5 449.8h1M78.1 459.2h1M96.4 465h1M92.7 456.6h1M101.8 451.6h1M102.2 454.8h1M86.9 458.9h1M82.1 457.3h1M97.5 451.7h1M103.1 459.7h1M87.6 453h1M101.7 459.8h1M92.2 464h1M96 443.7h1M101.1 454.8h1M97.6 448.3h1M86.7 455.9h1M101.6 458.8h1M87.8 465.7h1M89.2 458.8h1M102 450.9h1M96.8 462.1h1M85.8 462.7h1M92.3 457.9h1M97.7 457.3h1M84.5 449.7h1M107.9 444.4h1M92.2 456.2h1M78 462.3h1M100.1 455.8h1M96.5 454h1M96.9 464.8h1M84.3 462.8h1M83.1 461.1h1M91 458.5h1M92.6 456.2h1M87.5 462.2h1M84.1 448.9h1M99.3 450.7h1M88.9 451.7h1M92.7 458.4h1M93.9 456h1M88.4 455.7h1M95.7 455h1M84.7 455.7h1M102.3 446h1M81.4 454h1M81.1 460.7h1M86.6 456.3h1M85.4 462.1h1M81.6 451.8h1M79.7 454.6h1M93.6 460.3h1M92.5 460.8h1M88.6 460.5h1M98.5 460.5h1M79.8 461.7h1M96.9 456.3h1M95.7 456.6h1M85.4 465.9h1M95.1 450.8h1M89.8 453.5h1M78.9 464.7h1M96 453.3h1M95.2 459.3h1M83.5 459.8h1M80.7 453.4h1M88 462.4h1M85.8 452.5h1M87.5 453.8h1M78.1 464.2h1M90.9 457.8h1M85.9 461.9h1M83.2 457.3h1M80.2 461.7h1M84.7 463.6h1M81.6 463.5h1M97.5 447.6h1M95.1 464.7h1M92.9 457.7h1M78.9 462h1M88.2 461.9h1M94.7 457.7h1M86.4 459.5h1M92.4 451.6h1M87.1 452.3h1M90.9 458.3h1M96.7 449.1h1M78.8 462.1h1M88.9 457.8h1M84.4 465.7h1M82.4 456.2h1M78.5 462.3h1M95.2 453.7h1M96.7 457.7h1M88.8 456.1h1M88.6 452.6h1M100.5 465.3h1M94.2 453.8h1M85.7 463.1h1M81.7 458.5h1M101.1 460.7h1M94.4 455.9h1M83.2 451.6h1M89.4 455.4h1M85 460.1h1M108.4 453.2h1M107.5 446.4h1M93.2 453.4h1M92.3 463.6h1M94.5 452.7h1M85.6 464.8h1M85.3 463.8h1M90.2 455.9h1M95.6 461.4h1M96.7 453.7h1M89.2 458.5h1M103.9 464.4h1M78.1 465h1M93 457.2h1M97.7 452.5h1M88.8 439.7h1M80 466h1M94.2 450.7h1M99.6 463.5h1M77.9 455.1h1M77.4 466.5h1M84.4 457.5h1M77.2 460.3h1M84.7 462.7h1M89.2 454.5h1M91.7 450.8h1M94.6 456.3h1M81.1 454.5h1M95.8 451.9h1M101.1 450.8h1M91.1 457.2h1M89.2 465.4h1M84.5 464h1M83.1 458.1h1M98.5 458.2h1M88.7 453.7h1M86.3 458.4h1M100.1 461.7h1M95.3 457.6h1M86.3 452.5h1M84.4 464.5h1M78.8 462.1h1M89.5 458.7h1M109.4 463.5h1M102.2 444.8h1M88.1 450.4h1M85.2 459h1M89.7 460.7h1M89.4 460.1h1M91.9 460.7h1M82.9 461.7h1M91.9 455.5h1M86.3 459h1M88.4 450.6h1M82.6 465.1h1M86.7 463h1M87.4 466h1M87.9 462.2h1M81.5 450h1M78.6 455.8h1M92 462.2h1M86.9 457.7h1M91.1 460.9h1M97.5 459.5h1M90.1 461.9h1M88.1 451.3h1M85.8 457.8h1M100.7 462.4h1M82.8 465.7h1M96.4 452.4h1M93.3 455.6h1M112 448.1h1M90 461.2h1M98.2 457.4h1M94.4 454.1h1M87.3 460.7h1M86.1 455.8h1M80.8 457.9h1M81.6 461.3h1M98.2 454.1h1M96 452.6h1M92.7 462.9h1M84.6 465.6h1M87.3 451.3h1M90.2 457.3h1M88.9 456.7h1M95.6 461.3h1M99.7 453.9h1M77.6 461.7h1M96.3 454.3h1M92.8 459.5h1M78.6 465.2h1M83.5 459.5h1M94 459h1M97.9 462.5h1M92.1 457.2h1M96.2 453h1M95.7 453h1M103 451.8h1M79.8 458.9h1M92.7 442.8h1M87.8 455.7h1M94.4 451h1M104.7 459.9h1M89 457h1M78.5 460.7h1M95.3 455.7h1M86.9 458.1h1M92.2 447.2h1M92.7 457.3h1M79 464.6h1M84 462.5h1M91.4 463.7h1M95.8 442.8h1M91.6 465h1M78.2 461.7h1M82.7 454.3h1M78.7 464.2h1M96.7 466.1h1M100 462h1M89.8 453.7h1M99.3 461.3h1M89.1 457.5h1M104.7 458.5h1M82.2 466h1M94.1 458h1M87 457.3h1M85.6 457.1h1M91.1 450.5h1M86.4 456.7h1M97.4 464.1h1M89.7 459.2h1M100.1 450h1M88.6 459h1M90.1 461.9h1M85 445.9h1M94.7 465.8h1M103.5 459.9h1M90.5 464.8h1M92.6 458.8h1M86.7 464.1h1M99.1 465.3h1M87.2 459.4h1M88.6 452.2h1M91 448.7h1M87.7 460.1h1M84.2 454.5h1M91 454.5h1M77.5 456.8h1M105.1 458.9h1M82.2 453.6h1M86.1 455.9h1M87.1 450.6h1M89.6 464.8h1M85.9 464.4h1M93.2 458.9h1M84.8 447.4h1M79.9 461.1h1M92.4 455.2h1M97 447.3h1M105 453.6h1M80.4 465.3h1M102.3 460.7h1M87.5 450.3h1M104.8 451.8h1M77.1 464.3h1M93.7 455.3h1M94.6 453h1M85.5 457.2h1M79.4 459h1M84.9 464.5h1M91.7 456.3h1M96.9 466.3h1M99.3 461.7h1M80.6 462.5h1M88 461.3h1M91.8 463.7h1M92.1 456.8h1M80.2 464.2h1M99.3 457.6h1M88.6 456.4h1M83 458.3h1M96.5 453.8h1M91.2 458.9h1M103.9 462.5h1M84.6 463.3h1M80.6 448.3h1M79.3 458.7h1M82.2 456h1M80.3 461.4h1M95.6 466.1h1M77.8 457.3h1M95.6 457.3h1M93.7 462.4h1M89.6 447.2h1M96.2 454.5h1M87.3 465.7h1M80.4 466.4h1M93.2 462.2h1M89 456.8h1M95.9 461.9h1M105.2 457.6h1M97.4 452.7h1M81.1 455.7h1M97 450.2h1M97 456.1h1M89.4 461.7h1M99.2 463.4h1M94.9 461.8h1M103.9 453.8h1M111.5 450.4h1M82.4 462h1M91.9 451.3h1M94.9 456.6h1M98.6 458.9h1M79.7 457.6h1M97.8 455.8h1M78.5 466.1h1M110.7 454h1M88.4 457.2h1M102.1 460.1h1M88.6 462.8h1M88 463.3h1M97.7 454.3h1M97.9 465.7h1M87.2 450.3h1M87.6 455.8h1M94.1 454h1M94.3 444.1h1M98.7 458.3h1M93.8 458.9h1M97.5 457.9h1M97.4 450.6h1M91.7 461.1h1M87.3 456.4h1M86.4 447.5h1M92.6 459.5h1M86 463.8h1M90.1 448.3h1M88.6 454.8h1M93.9 457h1M85.8 450.4h1M104.2 455h1M86.5 457.7h1M89.3 462.2h1M89.6 459.4h1M90.7 456.5h1M103.5 459.5h1M98 461.9h1M93.7 461.8h1M95.8 456.7h1M89.6 460.1h1M82 461h1M88.3 451.6h1M89.2 456.5h1M96.5 458.4h1M78.6 464.5h1M105.8 466.2h1M87.2 465.5h1M81.7 451.6h1M86.8 463.7h1M93.3 451.8h1M90.3 457.6h1M90.3 457.9h1M100.7 449.8h1M100.5 454h1M103.6 444h1M81.5 450.4h1M104.7 457.3h1M100 453.4h1M84.1 455.7h1M107.2 459.3h1M95.4 459.5h1M96.6 457.8h1M96 446.7h1M96 451.6h1M93.5 455h1M84.6 458.9h1M80.3 460.5h1M78.3 466h1M84.1 456.5h1M92.1 454h1M82.4 461.2h1M92.2 464.2h1M86.4 456.7h1M88.5 463.1h1M95 459.3h1M96.9 457h1M80.9 466.3h1M96.4 447.5h1M83.6 462h1M82.6 453.2h1M101.7 453.2h1M87.4 452h1M98.1 459.7h1M94.6 460.4h1M86.8 457.2h1M98.1 454.4h1M103.9 457.6h1M96 459.3h1M91.2 456.9h1M83.8 450h1M96.7 452.2h1M80.9 457.8h1M97.1 448.1h1M88.8 453.5h1M90.6 462.3h1M89.9 460h1M88.6 465.2h1M92.8 453.2h1M79.2 463.3h1M96.9 457.1h1M92.7 458.5h1M91.9 462.3h1M80 459.6h1M103.7 461.8h1M90.5 448.8h1M104.4 450.6h1M89.4 447.6h1M94 450h1M82.4 465.2h1M86 453.2h1M92.9 461.9h1M91.3 465.4h1M90.9 463.2h1M84.4 458.8h1M80.1 458h1M97.6 453.6h1M97.7 458.8h1M81.7 456.6h1M80.3 460.6h1M95.5 456.4h1M92.6 464.5h1M77.5 465.1h1M85.5 458.5h1M96.7 464.1h1M87.3 463.7h1M100.7 464.2h1M89.1 455.5h1M91.7 462.7h1M96.7 452.5h1M94.2 456.1h1M99.4 448.4h1M96.2 454.9h1M101.6 458.6h1M89.3 458h1M81.6 462.4h1M99.4 453.9h1M84.9 460.9h1M92.7 460.9h1M106.8 441.3h1M93.5 455.4h1M85.7 464.3h1M95.9 452.6h1M89.2 461.6h1M105.7 452.9h1M104.2 456h1M86.2 462.7h1M97.1 461.3h1M94 447.4h1M95.8 449.2h1M81.6 466h1M92.3 463.6h1M89.5 459.7h1M94.4 452.6h1M86 453.9h1M96.7 461.7h1M100.9 459.8h1M92.8 455h1M92.6 449.5h1M84.6 455.4h1M85.3 457.8h1M86.5 461.6h1M87.8 456.3h1M85.5 460.1h1M92.7 458.2h1M81.1 457.1h1M89.3 450.4h1M84 457.1h1M97.3 459.2h1M90.8 461.3h1M91.9 460.8h1M85.7 454.4h1M87 458.7h1M92.3 459.7h1M90.9 451.7h1M95.6 463.4h1M84.8 458h1M95.4 454.2h1M92 455.8h1M87.4 453.3h1M79.6 457.8h1M100.6 459h1M86.7 456.9h1M80.3 464.2h1M88.2 454.7h1M79.7 449.7h1M79.8 452h1M78.3 455.8h1M88.5 452.4h1M101.9 460.5h1M107.7 439.1h1M98 450h1M107.9 454.2h1M81.4 463.8h1M88.4 449.8h1M83.9 458.1h1M83.2 449.3h1M100.9 461.8h1M106.9 448.6h1M86.3 450.6h1M97.5 461.3h1M83.8 459.3h1M98.9 455.9h1M79.4 460.8h1M79.1 464.9h1M86.7 459.2h1M95.2 457.3h1M91.3 460.8h1M90 461.8h1M83.3 462.3h1M94.2 447.2h1M94.4 464h1M80.6 460.4h1M99.5 450.3h1M89.5 454.6h1M80.1 459.8h1M87.2 465.9h1M102.1 449.4h1M85.5 454.6h1M95.4 456.7h1M90.9 460.2h1M78.5 454.4h1M97.5 455.1h1M95.8 456h1M94.3 454.1h1M87.4 458.3h1M90.7 451.2h1M101.5 451.2h1M89.8 463.3h1M94 452.1h1M81 460.7h1M91.9 450.5h1M78.6 458.4h1M101.1 447.8h1M79.7 465.3h1M88.1 461.1h1M89.5 458.4h1M105.4 461.1h1M94.3 464.6h1M103.4 454.9h1M95.2 447.7h1M90.4 465.7h1M94 462h1M92.8 454h1M87.4 459.9h1M77.7 454.3h1M79 461.8h1M98.5 453.9h1M82 458.6h1M94.5 454.6h1M95.3 461.6h1M92.9 452h1" stroke="#f21e38" stroke-width="1" stroke-opacity="0.9" fill="none"/>
<path d="M94.4 461.7h1M108.1 455h1M93.3 452.2h1M96.6 464h1M98.6 451.7h1M103.2 447h1M94.5 452h1M84.6 464.7h1M83 462.8h1M79.3 464.4h1M82.6 461.2h1M101 440.1h1M85.7 458.9h1M104.4 450.9h1M88.2 449h1M104 445.3h1M93.8 452.1h1M77.8 453.5h1M77 454.2h1M129.1 447.3h1M83.6 456.1h1M86.6 450.6h1M86.3 456.2h1M101.2 462.7h1M83.8 447.8h1M99.9 450.1h1M90 456.1h1M92.3 463.1h1M98 449.7h1M90.4 456.4h1M108.1 460h1M86.5 452.4h1M93.8 461.5h1M79.9 465.1h1M88.9 447.2h1M97.5 456.9h1M88.4 443.7h1M88.7 446.1h1M88.7 457.9h1M77.8 463.1h1M86.1 457.5h1M91.1 445.2h1M80.5 464.4h1M99.1 455.9h1M93.8 450h1M89.7 445.6h1M105.2 461.8h1M96.9 461.7h1M87.2 445.4h1M95 461h1M95 454.8h1M89.4 462.9h1M91.3 451.7h1M101.3 438.5h1M77.2 447.7h1M90.9 447.5h1M91.2 457.9h1M95.7 455.1h1M92.6 451.5h1M105.9 436h1M98.6 452.2h1M102.5 448.6h1M101.2 460.1h1M92 446.4h1M89.3 460.2h1M102 444.8h1M104.1 460.3h1M86.9 462h1M84 456.9h1M83.7 455.9h1M104.6 445.1h1M89.3 459.5h1M95.4 459.3h1M103.6 454.1h1M92.3 447.1h1M78.3 460.2h1M99.4 446h1M97.1 447.4h1M81.8 445.5h1M116.5 440.2h1M94.5 459h1M97.2 454.2h1M84.3 447.2h1M100.6 453.4h1M80.2 465.7h1M91.2 464.3h1M93.4 454.9h1M81 465h1M81.4 451.8h1M82 465.3h1M95.3 450.4h1M99.1 464.9h1M103.8 453.6h1M106.2 456.7h1M81.3 454h1M98.6 450.4h1M105.6 442.7h1M104.2 458.7h1M95.5 457.8h1M96.5 452.8h1M82.4 464.2h1M90.4 453.1h1M86.4 450.9h1M98.7 455.2h1M97.9 459.5h1M85.8 448h1M121.9 452.2h1M103.4 465.4h1M88.5 452.3h1M83.9 458.9h1M88 451.1h1M98.9 456.4h1M103.9 434.6h1M90.2 462.1h1M91.5 460.4h1M101.6 451.5h1M103.5 448.8h1M84.3 454.1h1M93.1 453.1h1M94.4 464.6h1M90 462h1M107 447.1h1M78.8 456h1M93.1 448.2h1M102.1 458.2h1M80.6 464.8h1M91.4 453.8h1M95.3 450.5h1M86.7 458.9h1M92.5 462.6h1M87.3 447.4h1M96.8 445.1h1M114.2 447.8h1M101 441.6h1M107.1 458.1h1M98.6 463.3h1M91 454h1M86.9 465.2h1M86.5 450.7h1M92.7 446.5h1M94.8 456.9h1M88.4 462.8h1M79.8 464.9h1M84.4 452.1h1M80.9 463.9h1M81.2 460.5h1M114.1 451.4h1M101.8 450h1M88.5 443.8h1M92.4 440.9h1M103.4 454.1h1M116 463.7h1M77.5 445.3h1M114.9 450.8h1M88.8 456.1h1M80.9 446.4h1M88.8 447.1h1M102.1 455.5h1M89.8 448.8h1M89 451.4h1M84.5 458.7h1M86 457.7h1M82.3 460.7h1M89.7 453.3h1M83.7 445.3h1M88.8 454.6h1M98.7 457.7h1M96.1 451.5h1M104.5 443h1M111.6 464.1h1M103.5 442.1h1M106.1 436.6h1M91.3 460.6h1M101.9 436.3h1M105.5 457.5h1M94.7 462.6h1M92.8 456.5h1M84 459.9h1M85.7 452h1M100.3 457.4h1M91.9 450.5h1M85.8 465h1M89.1 451.7h1M95.9 441.4h1M97.6 446.1h1M102.4 441.6h1M101.1 462.6h1M97.7 451.3h1M109.7 459.7h1M78.2 459.5h1M95.5 455.8h1M92.3 464.6h1M92.3 460.6h1M108.3 446.7h1M119 460.3h1M85.9 438.8h1M97 443.6h1M93.2 460h1M101.7 449.9h1M87.9 457.6h1M85.5 438.6h1M99.7 460.5h1M83.6 447.7h1M95.9 457.6h1M105.6 456.7h1M100 450.2h1M93.6 451.2h1M81.8 457.7h1M81.7 441.7h1M88.2 458.7h1M111.7 459.9h1M93.9 454.4h1M101.6 437.9h1M93.2 442.8h1M89.1 466.2h1M93.6 441.8h1M92.7 447.1h1M90.5 459.4h1M97.1 455.3h1M100.5 459.5h1M90.9 448h1M91.4 460.5h1M90.1 448.4h1M92.1 465.6h1M83.8 458h1M83.4 458.8h1M87.4 463.3h1M99 462.1h1M91.4 453.6h1M89.2 451.6h1M86 452.9h1M88.2 457.2h1M86.5 455.8h1M102.5 453h1M97.7 434.2h1M101.5 450.1h1M98.7 436h1M95.1 453.3h1M85.1 447.3h1M92.9 436.2h1M84.4 446.5h1M128.1 450.2h1M87.1 462.5h1M84.1 451.4h1M116.5 453.1h1M78.6 461.5h1M90.2 434.6h1M83.4 450.9h1M106.4 460.2h1M95 452h1M107.4 451.6h1M81.1 458.1h1M89.8 447.1h1M89 444.5h1M101.4 449.3h1M97.3 462h1M78.2 442.3h1M87.3 450.1h1M85.8 462.7h1M81.1 460.3h1M85.8 448.8h1M101.9 454.3h1M97.9 450.2h1M95.1 458h1M80.3 464.6h1M92.6 442.5h1M93 449.4h1M119 459.3h1M114.8 449.6h1M84.3 458.7h1M107 466h1M96.1 442.1h1M101.4 446.9h1M92.3 460.1h1M111 451.3h1M95.7 461.7h1M99.6 444.4h1M109.9 429.1h1M101.1 439.1h1M87.6 461.3h1M97.4 441.9h1M94.6 464.5h1M114.1 454.8h1M79.7 458.5h1M88.7 456.2h1M93.6 463.8h1M104.9 460.5h1M108.6 432.3h1M81.4 456.9h1M97.2 447.7h1M106.7 447.6h1M98 448.3h1M81.8 451.2h1M94.4 462.8h1M86.7 443.6h1M92.2 441.5h1M100 456.3h1M86.8 464.3h1M123.5 462.6h1M94.2 464h1M95.3 454.2h1M83.9 456.9h1M124.2 461.8h1M86.7 456.8h1M113.5 444.2h1M119.5 444.9h1M99.4 463.6h1M97.3 461.7h1M105.9 440.4h1M94.8 455.7h1M104.7 447.4h1M81.5 458h1M90.3 449.9h1M88.7 457.8h1M94.8 443.5h1M90.8 455.9h1M83.3 451.9h1M103.9 444.9h1M86.5 453.8h1M116.9 449.9h1M92.5 454.5h1M90.9 437.1h1M78.7 465.6h1M92.5 459.9h1M98.5 458.4h1M89.5 465h1M92.3 465.4h1M88.9 453.5h1M102.3 451h1M90.7 453.2h1M102.3 464.4h1M88.4 454.4h1M77.9 451.9h1M90 457.9h1M89 448.1h1M107.9 450.9h1M93.1 448.1h1M91.6 460h1M120.8 452h1M77.2 451.6h1M85.4 460.9h1M86 452.8h1M93.8 448.4h1M90.1 456.2h1M111.9 451.7h1M78.3 463.6h1M79.7 454.6h1M77.1 451.7h1M118.9 449.5h1M94 457.5h1M86.3 459.8h1M102.9 454.1h1M89.1 463.3h1M92.7 462.2h1M92.6 446h1M102.1 462.4h1M96.9 460.7h1M101.9 456.7h1M96.6 447.4h1M90.3 458.6h1M97.9 450h1M88.6 460.7h1M89.4 464.1h1M100.3 443h1M101.5 440.5h1M93.8 459.4h1M101.6 455.9h1M85.4 457.3h1M105.9 449.3h1M101.1 459.4h1M95.2 461h1M114.4 455.7h1M96.2 441h1M105.8 445h1M105.9 451.5h1M87.2 445.2h1M96.1 436.6h1M92.5 432.7h1M97.7 446h1M98.1 446.8h1M91.3 464.7h1M94.2 446.2h1M99.2 449.6h1M91.1 457h1M78 463.1h1M100.4 461.3h1M131 451.5h1M88 462.9h1M94 455.1h1M77.3 462.6h1M104.1 457.7h1M106.3 457.4h1M110.5 460h1M102.2 457.6h1M80.5 455.2h1M102.6 445.2h1M81.3 465.1h1M90.9 459.9h1M100.8 464.4h1M90.2 460.3h1M109.2 452h1M97.8 450h1M96.1 461.2h1M88.7 461.6h1M97.4 435.1h1M116.8 451.1h1M85.5 448.1h1M97.8 450.9h1M95.7 455.3h1M87 452.6h1M95.9 447.4h1M92.3 452.1h1M88.1 461.2h1M106.8 453.6h1M80.9 445.7h1M102.6 464h1M104 461.4h1M100 458.5h1M103 448.5h1M100 447h1M88.7 457.4h1M86.3 443h1M95.2 456.5h1M79.3 461.3h1M78.6 450.5h1M84.1 457.6h1M88.5 452.9h1M80 450.9h1M93.3 458.5h1M90.7 457h1M100.8 443h1M97.3 452.2h1M101.6 442.1h1M97.6 461.5h1M96.2 461.6h1M95.1 452.2h1M111.4 441.8h1M82 452.1h1M99.2 462.4h1M104.8 441.7h1M96 455.5h1M90.7 450.1h1M90.5 464.3h1M88.6 456.9h1M92.3 442.2h1M108.6 442.1h1M117.8 463.4h1M82.1 455.5h1M90.4 452.6h1M88.5 452.6h1M86.8 444.5h1M87.8 447.8h1M116.5 450.9h1M113.5 447.8h1M84.6 457.9h1M96.1 455.6h1M76.9 461.2h1M111.4 460.2h1M89.6 451.3h1M97.4 448.6h1M93.3 442.6h1M78.6 460.6h1M87.9 460.8h1M84.9 454.8h1M103 444.8h1M97.2 450h1M112.2 463h1M81.1 444.1h1M99.8 441.4h1M105.5 456.6h1M98.9 464.6h1M82.9 461.7h1M91.8 446.8h1M87.4 458.9h1M95.8 454.9h1M90 448.8h1M101.8 463.1h1M100.4 441h1M92.7 464.1h1M101.5 458.5h1M92.6 456.6h1M111.2 448.4h1M103.6 444.1h1M106.6 458.6h1M117.7 435.3h1M107.1 449.6h1M83.4 466.5h1M91.3 450.5h1M81.6 462.3h1M83.3 465.1h1M102.1 465.7h1M98.9 458h1M98.2 452.3h1M92.1 451.3h1M111.6 461.5h1M102.7 462.8h1M100.2 461.7h1M88.2 442.1h1M102.1 450.4h1M83.3 441.2h1M103.1 445.4h1M94.8 458h1M95.9 441.8h1M86.8 456.9h1M79.1 458.7h1M80.7 454.7h1M88.6 459.8h1M82.9 453.2h1M90 450.6h1M95.6 461.3h1M83.4 462.5h1M80.4 466.1h1M112.7 450.3h1M82.8 441.8h1M100 449.4h1M100.6 454.5h1M115.3 453.1h1M83.6 464.6h1M95.4 455.8h1M101 463.5h1M100.9 466.3h1M97.7 453.2h1M105.6 455.7h1M94.3 461.9h1M90.1 466.4h1M90.2 453.3h1M89 463.4h1M100.9 457.2h1M85 455.2h1M86 451.6h1M88.1 461.2h1M102 452h1M113.7 457.3h1M112.4 440.2h1M106.5 444.6h1M116.4 448.5h1M111.4 443.7h1M94.2 451.5h1M82.8 454.5h1M80.8 462.4h1M86 460.3h1M95.2 458.8h1M103.3 459.9h1M82.5 462.8h1M79.1 454.2h1M110.7 443.3h1M97.7 464h1M92.3 463.2h1M90.7 450.3h1M100.5 446.3h1M93.3 457h1M97.9 454.3h1M94.2 462.3h1M102.6 450.2h1M83.6 459.5h1M82.8 452.4h1M100.2 452.4h1M96 461.1h1M98.9 450.3h1M83.7 462.3h1M84.9 463.1h1M98.7 454.5h1M83.1 461.1h1M110.3 456.3h1M98 465.5h1M100.9 462.5h1M84.6 449.8h1M94.8 453.2h1M88.2 465.5h1M106.9 456.9h1M88.4 449.8h1M78.9 457h1M108 456.8h1M78.5 458.1h1M92.8 459.2h1M121.5 449.3h1M100.1 457.7h1M115.4 456.9h1M127.9 445.8h1M76.7 437.8h1M99.5 453.3h1M88.6 458.7h1M85.6 457.2h1M111.1 458.7h1M99 451.9h1M78.4 465.1h1M82.3 457.5h1M104.7 457.8h1M83.5 465h1M96.3 463.4h1M86.7 448h1M89.6 463.5h1M78.9 456h1M101 456.5h1M96.1 455.3h1M81.5 466.4h1M95.4 452.2h1M89.4 462.6h1M108.2 452.6h1M94.4 456.7h1M88.1 458.2h1M93.3 458.2h1M79.4 460.4h1M109.2 455.7h1M96.5 449.8h1M115 457.9h1M89.6 459.7h1M86.9 462.9h1M91.3 463.2h1M84.9 438.6h1M83.5 466.1h1M96.9 430.1h1M108.4 446.9h1M79.2 453.6h1M83.6 453.8h1M87.9 457.3h1M97.6 443.7h1M101.1 450.2h1M98.5 457h1M79.1 461.4h1M101 445.3h1M87.8 453.4h1M104.9 450h1M99.5 454h1M109.3 457h1M86.3 446h1M82.6 463.7h1M95.7 444.6h1M99 451.5h1M96.4 456h1M81.9 455.6h1M95.5 460.2h1M102.6 457.4h1M117.6 446.7h1M103.5 454.3h1M97 458.5h1M90.9 448.3h1M112.2 429.1h1M100.4 455h1M96.6 450.6h1M103.8 437.7h1M113.1 453.5h1M116.4 452.4h1M103.4 457.2h1M90.9 465.1h1M101 449.5h1M102.5 458.5h1M92.6 457.3h1M84.8 456.7h1M90.4 462.7h1M97.9 448.4h1M79.8 460.4h1M109.2 437.2h1M76.6 456.8h1M95.7 460.5h1M99.7 450.1h1M101.7 458h1M106 449.5h1M92.7 461.6h1M110.1 432.7h1M101 451h1M90.6 459.7h1M83 457.2h1M83.4 460.4h1M93.4 437.3h1M92.8 452.9h1M104.2 447.2h1M83.6 455.8h1M97.2 457.5h1M97.1 456h1M88.4 449.4h1M86.8 449.3h1M77.5 455.8h1M88.1 442.8h1M92.5 445.8h1M79.5 447.5h1M105.5 449.2h1M111.4 458.1h1M96.9 456.2h1" stroke="#f02c4a" stroke-width="1" stroke-opacity="0.85" fill="none"/>
<path d="M87.6 457.9h1M80.3 456.7h1M89.6 459.4h1M95.8 455.9h1M83 459.2h1M111.8 449.2h1M95.1 459.9h1M102.3 443.6h1M80.6 453.4h1M87.9 458.9h1M116.7 451.3h1M110.6 455.2h1M103.3 450.6h1M84.3 453.9h1M110.8 446.9h1M89.3 450.8h1M103.3 458.3h1M91.2 453.3h1M99.2 455.2h1M90.1 456.5h1M106.5 446.9h1M99.2 454.2h1M84.8 461.5h1M96.6 457.8h1M96.1 452.1h1M101.2 452.2h1M84.2 457.5h1M81.3 458h1M92.2 455.9h1M90.8 463.8h1M100.4 446.7h1M91.6 465.7h1M99.3 440h1M94.8 457.7h1M86.4 458.7h1M95.8 464.1h1M94.9 450.9h1M94.9 451.2h1M89.6 456.4h1M101.5 464.9h1M87.2 456.4h1M91.5 456.5h1M97 451.4h1M86 447.5h1M97 456.8h1M89.7 460.7h1M93 455.5h1M93.3 460.2h1M100.2 466.1h1M106.3 455.7h1M82.3 451.8h1M86.6 464.4h1M82.7 458.6h1M94.7 449.4h1M89.1 458.9h1M104.1 442.4h1M98.4 450.5h1M93.6 450.5h1M83.7 442.2h1M95.4 460.2h1M93.6 458.6h1M85.7 447.3h1M122.1 448h1M99 457.2h1M94.6 454.3h1M88.3 449.4h1M92.6 460.8h1M85.1 461.6h1M108 451.5h1M101.5 448.1h1M94.3 464.8h1M107.6 457.4h1M81.7 454.5h1M82.5 455h1M90.9 455h1M85.3 450.1h1M78.8 444.8h1M94.5 451h1M94.3 448.3h1M89.3 452.9h1M82.9 440.3h1M77.6 457h1M80.4 464.3h1M78.7 463.5h1M122.5 436.3h1M112.3 455.4h1M85.8 460h1M87.4 460.9h1M88.5 457h1M106.1 445h1M91.1 455.9h1M97 454.2h1M104.4 451.2h1M106.2 442.9h1M102.9 459.3h1M86.6 460.2h1M103.3 448.2h1M106.8 446.3h1M91.8 460.1h1M93.9 461.8h1M113.1 460.3h1M104.8 451.5h1M77 462.9h1M95.6 443.4h1M107.7 461.7h1M76.7 461.3h1M90.6 461.9h1M97.1 452.5h1M88.4 459.5h1M96.2 457.6h1M130.7 465.1h1M100.4 456.7h1M86.7 449.1h1M88.8 456.1h1M77.8 452.9h1M94.7 458.2h1M100.4 462.3h1M100.3 442.6h1M98.3 461.3h1M93.1 451.6h1M83.4 463.3h1M98 455.4h1M96.4 460.4h1M87.4 452.5h1M95.6 451.9h1M88.7 462h1M100.3 451.6h1M93.8 462.7h1M92 448.6h1M92.1 461.3h1M88.5 460.1h1M92.6 449.8h1M96.6 459h1M82.6 457.8h1M94.4 460.6h1M101.3 445.9h1M85 449h1M86.1 447.2h1M89.6 458.6h1M94.8 447.7h1M89.9 438.9h1M96.5 456.1h1M98.3 466.2h1M82.5 453.2h1M104.2 456.4h1M103.7 446.5h1M85.4 460.2h1M82.4 456.3h1M112.4 448.8h1M88.8 449.9h1M89.1 449.8h1M98 441.6h1M93 458.4h1M104.7 455.7h1M106.7 453.1h1M103.2 466.5h1M101.3 446.9h1M87.9 456.4h1M106.6 464h1M99.3 456.6h1M95.5 453.5h1M110.3 456.5h1M100.8 464h1M103.2 447.7h1M86.6 460.7h1M98.6 452.9h1M106.5 450.8h1M122.2 444.3h1M80.6 459h1M84.8 457.1h1M92.3 456.2h1M132.8 445.8h1M89.3 465.7h1M104.7 457.1h1M78.7 444.2h1M111.8 448.2h1M99.1 453.7h1M103.9 464.5h1M108.6 437.5h1M98.1 442.5h1M98.1 454h1M108 452.7h1M86.7 441.5h1M105.4 452.4h1M84.7 458.9h1M102.9 460.6h1M91.3 458.4h1M101.2 454.6h1M110.8 448.3h1M81.3 447.4h1M81 465.9h1M105.8 443h1M101.5 462.1h1M93.7 465.1h1M92.5 446h1M86.5 458.3h1M89 446.4h1M86.9 462h1M93.8 450.9h1M105.9 443.6h1M90.9 453.9h1M97 461.7h1M117.2 451.8h1M83.6 461.4h1M89.9 456.5h1M83.9 461.8h1M101.6 454.1h1M81.9 465.4h1M91.8 459.2h1M95.5 451.7h1M112.1 446.2h1M79.1 460.2h1M104.7 459.1h1M90.1 459.5h1M88.5 465.1h1M89.2 451.5h1M100.8 454.8h1M96.9 465.9h1M87.1 455.3h1M86.3 441.8h1M77.4 445.2h1M104.2 453.9h1M93.9 452.7h1M100.7 449.2h1M112.2 450.6h1M96 466h1M87.2 460h1M91.2 435.2h1M83.9 460.3h1M78.9 455.5h1M88.6 451.5h1M87.5 459.3h1M82.1 463.4h1M85.2 459.5h1M77.2 463.5h1M85.8 457.6h1M88.9 433.2h1M79.9 453.3h1M109.1 456.8h1M94 460.3h1M104.9 451.5h1M92.4 456.8h1M91.8 461.5h1M81.6 457.5h1M87.6 457.6h1M78.2 459.6h1M88.5 455.2h1M98.5 454.7h1M89.4 453.8h1M92.3 457.9h1M94.4 450.7h1M95.2 462h1M79.6 465h1M94.3 456.2h1M101.8 452.4h1M96.1 452.5h1M110.3 449.1h1M104.6 446.5h1M97.6 446h1M95.3 439.8h1M101.4 450.7h1M105.6 457.5h1M90.2 453.8h1M86.3 456.5h1M113.7 463.4h1M80.4 449h1M79.2 463.2h1M98.8 465.1h1M90.4 456.1h1M80.1 460.6h1M81.6 462.5h1M79.1 455h1M93.5 454.5h1M76.9 461h1M81.4 449.1h1M97.5 456.9h1M86.3 444.1h1M82.5 453.7h1M84.5 456.9h1M94.2 460.4h1M116.7 454.4h1M103.7 449.7h1M123.8 446.4h1M83.9 463.9h1M86.4 457h1M97.9 459.1h1M82.3 460.1h1M89.4 460.7h1M92 466.5h1M79 455.8h1M84.4 450.7h1M102.3 450.5h1M101.1 443.1h1M101.2 439.3h1M96.2 465.9h1M109.1 447.2h1M111.7 460.8h1M84.4 463.5h1M91.1 455.9h1M87.6 453.9h1M97.7 445.1h1M88.5 452.2h1M86.7 464.7h1M76.7 462.6h1M105.4 443h1M77.4 461.7h1M94.1 451.4h1M91.4 455.8h1M107.2 445h1M91 453.4h1M104.4 450.4h1M98.8 458.9h1M99.1 464.1h1M89.4 461h1M101.6 450.1h1M82.9 430.3h1M81.6 462.3h1M92.6 454h1M91.9 459.6h1M106.8 451.5h1M90.2 458.5h1M107.9 448.6h1M107.3 453.2h1M93.5 452h1M99.1 457.1h1M97.2 450.3h1M117.2 438h1M98.6 449.6h1M108.7 454.8h1M102.1 451.2h1M89.5 458.7h1M103.4 460h1M97.7 462.9h1M90.4 449.4h1M99.2 461.3h1M103.7 454.1h1M84.9 455.1h1M87.3 465.5h1M111.5 456h1M104.2 459.5h1M83.3 451.4h1M104.4 455h1M99.6 457h1M95.2 458.4h1M82 461.9h1M103.9 459.2h1M84.8 462h1M77.8 451.4h1M85.9 459.2h1M95.6 458.7h1M88.3 459.4h1M92.3 458.5h1M111 435.7h1M78.5 461.1h1M106.7 453.2h1M86.1 458.3h1M93.2 454.5h1M94.1 463.1h1M102.2 457h1M101.2 457.7h1M85.1 454h1M87.3 453.3h1M104.9 461.5h1M114 451.9h1M81.3 457.4h1M107.9 454.5h1M83.5 455.1h1M87.3 466.3h1M92.8 439.7h1M84.3 454.7h1M109.6 445.8h1M117.3 442.5h1M83 453.7h1M93 449.1h1M84.1 461.2h1M95.8 444.3h1M100.1 463.7h1M106.6 454.2h1M80.7 445.4h1M78.6 463.5h1M93.7 455.4h1M98.2 442.5h1M81.4 460.4h1M95.4 454.4h1M90.7 456.4h1M111.2 438.2h1M86.4 461.5h1M83.5 459.5h1M80.8 464.5h1M78.6 457.4h1M87.7 455.1h1M92.8 453.2h1M107 460.3h1M96.1 438.4h1M98.2 453.3h1M83.3 462.7h1M102.4 458.7h1M94.3 449.4h1M85.3 462.7h1M79 457.5h1M90.6 451.6h1M99 442.2h1M83.2 459.6h1M96.3 451.4h1M95.5 463.9h1M84.8 461h1M101 437.6h1M113.2 457.4h1M111.1 455h1M81.4 464.8h1M104.7 449.8h1M91 457.3h1M83.4 455.2h1M117.3 449.1h1M96.7 462.5h1M81.5 454.6h1M82 465.3h1M91.6 465.8h1M106.3 455.7h1M111.8 447.3h1M97.5 449.7h1M93 449.6h1M101.2 454.7h1M92.5 461.5h1M86.9 449.3h1M83.7 463.7h1M97.1 452.7h1M87.9 460.2h1M95.5 462.7h1M78 461.4h1M87.8 449.8h1M94.9 460.4h1M81.9 463.8h1M89.9 452.2h1M85.1 451.2h1M89.9 458.7h1M102.9 455.2h1M95.9 461h1M98.6 458.7h1M80.1 457.5h1M89 442.3h1M89.2 448.9h1M83 443.6h1M101.6 453.7h1M81.2 448.1h1M82.8 463.3h1M119.9 436.1h1M86.2 462.3h1M93.2 464.4h1M120.5 466h1M92.6 451.5h1M78.1 458.7h1M90.6 464.4h1M103.7 450h1M93.2 454.3h1M95.1 444.9h1M87.3 461.9h1M77.9 463.6h1M94.2 443.7h1M89.4 456h1M106.6 448.4h1M106.5 463h1M88.7 455.5h1M103.9 456.1h1M105.9 449h1M100.1 456.4h1M81.5 457.1h1M103.9 444.6h1M95.6 453.7h1M103.8 461.3h1M79.8 460.9h1M96.3 453.3h1M91.9 457.3h1M108.6 445.8h1M113.1 447.7h1M80.1 453.8h1M87.5 454.2h1M82.9 466h1M97.8 458.3h1M95.2 459.9h1M101.5 452.2h1M91.2 445.4h1M95.5 442.8h1M96.9 447.7h1M93.3 443.5h1M101.2 453.6h1M80 445.7h1M88.1 450.5h1M102.4 449.6h1M101.8 458.9h1M82.4 459.3h1M96.7 464.1h1M77.1 459.9h1M89.1 454.7h1M94.7 465.1h1M100.8 450.5h1M83.6 457.3h1M80.5 450.4h1M95.6 456.3h1M105.9 459.6h1M112.2 449.1h1M97.8 438.8h1M80.7 462.5h1M105.3 450.2h1M99.5 454.5h1M97.6 451.7h1M109.2 460.6h1M91.1 447.3h1M85.2 464.9h1M89.7 460.4h1M95.6 454.5h1M111.9 434h1M106.8 452.9h1M76.7 463.2h1M98.5 464.3h1M98 460.4h1M81.9 450.3h1M88.5 460.9h1M101.3 443.7h1M111.1 460.5h1M78.4 462.8h1M76.7 458.9h1M89.4 453.5h1M85.6 459.5h1M86.5 459.7h1M95 456h1M83.2 462.8h1M87.9 459h1M90 452.4h1M115.4 451.4h1M81.6 453.7h1M80.7 465h1M80.8 463h1M99.6 442.8h1M81.1 462.3h1M90 464.5h1M84 463.7h1M96.8 446h1M94.3 457.2h1M80.3 463.8h1M100.3 452.5h1M101.2 449.9h1M84.7 462.6h1M98.6 445.3h1M87.7 460.9h1M96.7 451.2h1M91.6 459.6h1M83.2 447.5h1M104.6 434.3h1M117.8 445h1M84.6 453.1h1M87.8 463.4h1M87.2 446.4h1M88.2 452.2h1M89.8 441.8h1M90 444h1M79.3 466.3h1M109.7 454.1h1M112.1 449.2h1M86.1 460.8h1M104.3 450.6h1M93.8 457.1h1M100.3 453.6h1M79.2 445h1M103.5 445.3h1M101.5 457.3h1M91.1 454.9h1M111.4 453.6h1M89.1 452.8h1M93.9 463.6h1M103.4 438h1M100.4 445.5h1M125.2 436.2h1M77.3 461.4h1M102.5 455.8h1M104.5 448.1h1M111.4 448.9h1M85 454.8h1M88.1 447.6h1M90.3 456.2h1M116.2 448.8h1M78.6 452.9h1M81.1 465h1M94.1 438.7h1M82.6 455.4h1M84.7 466.2h1M109.7 455.3h1M89.2 460.5h1M86 460h1M95 465.4h1M99 443.2h1M104.1 460.9h1M125.3 435.1h1M97.7 457.1h1M106.4 458.1h1M85.7 463h1M99.6 449.4h1M88.2 459.4h1M90.3 447.6h1M85.8 454.3h1M88.4 453.8h1M91.8 464.2h1M91 463.7h1M109.4 453.2h1M85.9 454.6h1M83.7 436.1h1M89.1 455h1M120 448.6h1M100 456h1M96 459.8h1M89.5 455.9h1M88.6 466.4h1M118.3 445.1h1M94.7 446.1h1M99.8 443.5h1M79.7 457.5h1M88.5 441.2h1M97.1 465.1h1M96.6 454.1h1M95.4 440.8h1M90.4 451.3h1M93.7 431.3h1M85.9 447.5h1M93.6 459.9h1M94.7 461.6h1M102.6 455.2h1M86.7 458.9h1M105.1 456h1M92.9 448.4h1M77 450h1M100.8 460.1h1M79.1 460h1M92.7 461.8h1M89.7 451.5h1M87 461.1h1M94.2 466.3h1M86.4 455.8h1M99.1 451.6h1M102.2 455.6h1M107.9 453.7h1M79.9 456.1h1M96.3 441.8h1M87.2 449.5h1M97.4 450.9h1M102.6 459.8h1M102 454.8h1M102 447.7h1M76.7 461.9h1M88.8 455.6h1M89.5 447.9h1M111.1 444.9h1M112.8 445.7h1M99.9 456.1h1M107.6 458.1h1M96 460.6h1M95 465.3h1M84.9 456.2h1M107.4 457.4h1M107.2 448.9h1M96.2 461h1M101.7 460.3h1M87 459.7h1M107.6 455h1M90.6 465.1h1M91.1 455.5h1M88.6 463.1h1M129.6 448.1h1M105.6 460.4h1M99.2 443.8h1M100 444.9h1M86.9 450.7h1M78.7 444.4h1M87.5 454.4h1M103.5 453.8h1M92.6 453h1M83.1 464.2h1M95.3 463.3h1M98.5 459.7h1M83.5 456.5h1" stroke="#f0809a" stroke-width="1" stroke-opacity="0.8" fill="none"/>
<path d="M128 452.2h1M109.9 447.7h1M104.9 407.6h1M106.4 457.1h1M89.7 445.2h1M93.3 455.2h1M110.4 435.7h1M92.8 438.6h1M120.9 425.8h1M85.8 454.5h1M131.7 415.5h1M78.6 465h1M117.8 432.1h1M100.5 448.2h1M92.7 459.2h1M87.9 449.8h1M130 434.7h1M119.3 408.1h1M136.6 423.3h1M83.3 462.9h1M109.9 419.2h1M105.6 451.5h1M115.2 450.5h1M103.2 445.8h1M107.1 421.3h1M107 458.1h1M82.7 460.8h1M124.6 408.8h1M130.5 440.3h1M99.6 447.1h1M103.2 447.3h1M101.9 449.6h1M94.6 429.8h1M122.3 434.8h1M89.6 459.8h1M150.4 437.4h1M89.5 423.9h1M95.7 451h1M88.2 436.7h1M96.7 423.8h1M91.7 448.7h1M124.7 417.2h1M96.6 441.5h1M93.5 450.6h1M93.5 443.7h1M121.7 424h1M101.5 453.3h1M91.8 458.8h1M81.5 447.5h1M97.4 446h1M107.1 456.3h1M94.7 452.2h1M111.3 435.4h1M107 423.1h1M129.7 438.2h1M104.6 445.6h1M124.2 431h1M106.1 417.8h1M132.4 426.7h1M91.8 453.4h1M105.6 435.8h1M86.1 433.3h1M88.1 438.8h1M104 446.1h1M98.7 444.5h1M123.3 463h1M94.9 452.1h1M88.2 440.9h1M90 459.7h1M109.1 440.2h1M99.9 444.9h1M133.3 433.6h1M112.8 444.1h1M111.3 433.3h1M157.2 410.8h1M108.2 431.6h1M84.7 460h1M94.7 449.1h1M103.9 449.4h1M100.4 463h1M98.7 432.5h1M90.3 456.8h1M116.6 450.8h1M86.4 438.8h1M83.4 455.5h1M99.3 440.7h1M97.9 448.8h1M86.5 463.5h1M96.7 432.4h1M102.5 447.9h1M106 447.9h1M115.4 423.3h1M97 404.1h1M93.8 450.5h1M106.1 432.6h1M82.6 463.1h1M100.3 442.5h1M89.6 452.3h1M84.2 440.9h1M136.1 408.2h1M83.4 463.2h1M110.6 441.7h1M77.8 461h1M93.5 434.7h1M81.5 446.7h1M99.9 432.2h1M101.5 450.1h1M107.7 429h1M88.7 428.1h1M77.3 461.7h1M108.9 452.7h1M86.8 403.5h1M84.1 454.3h1M94 432.4h1M104.1 426.5h1M83.5 458.9h1M130.2 443.9h1M101.5 440h1M116.8 394.2h1M82.8 451.7h1M156.8 423.6h1M127.7 446.9h1M95.7 452.2h1M85.4 454.8h1M83.8 462.1h1M132.2 434.5h1M132.5 411.6h1M91.3 454h1M120.7 424h1M93 454.9h1M112 436.1h1M90.2 409.7h1M123.5 430.2h1M93.9 426.1h1M102.1 414.6h1M99.8 465.4h1M120.4 414.6h1M145.2 419.4h1M93.4 447.4h1M103.4 458.5h1M144.1 418.6h1M118.3 399.6h1M106.4 440.1h1M120 420.9h1M109.9 406.8h1M155.6 395.8h1M111.3 427.5h1M128 430h1M84.7 421.5h1M89.4 464.7h1M104.8 410h1M105.2 449.2h1M88.4 449.8h1M93.1 463.5h1M128.9 417.7h1M82 443.4h1M81.1 424h1M128.7 406.5h1M86.5 435.9h1M85.8 452.4h1M92.6 449.8h1M107.1 452.8h1M95.3 451.9h1M141.7 379.2h1M118.8 431.9h1M81.7 454.7h1M130.9 431.9h1M95.8 450.4h1M127.1 425.3h1M83.2 455.7h1M89.1 449.4h1M80.5 465.3h1M108.7 455.9h1M99.1 411.1h1M94.5 454.7h1M93.7 431.8h1M93.7 450.6h1M96.7 438.6h1M125.8 415.2h1M108.5 427.7h1M111.7 458.3h1M90.3 441.1h1M84.9 464.7h1M130.3 418.4h1M113.6 447.8h1M95.5 437.7h1M88.2 423h1M94.9 439.9h1M102.4 432.9h1M91.2 446.1h1M99.3 449h1M95.5 457.3h1M86.4 451.1h1M102 414.2h1M122.2 452.5h1M93.1 450.9h1M82.2 381.9h1M78.6 448.8h1M96.1 430.8h1M142.6 430.1h1M104.6 437.2h1M87.5 443.5h1M95.1 451.5h1M121.4 424.2h1M100.3 458.9h1M85.6 429.2h1M84.3 458.8h1M90.6 447.8h1M116.7 448.7h1M94.6 429.3h1M142.4 406.1h1M128.9 439.2h1M102.4 438.9h1M99.4 454.8h1M127.5 424.7h1M93.8 442.1h1M126.3 440.2h1M132.2 406.9h1M86.1 441h1M101.6 439.5h1M136.7 449.7h1M88.1 440.6h1M79.4 464.4h1" stroke="#f0809a" stroke-width="1" stroke-opacity="0.7" fill="none"/>
<rect x="76.4" y="468.8" width="42" height="19.3" fill="url(#mg2)"/>
<path d="M80 474.5h1M102.8 484.8h1M84 485.9h1M84 484.3h1M93 477.4h1M97.8 474.2h1M111.8 472.5h1M79 469.6h1M110.7 479h1M81.1 473.4h1M82.6 471.9h1M104.1 478.6h1M97.5 484.6h1M107.5 486.5h1M87.9 470.4h1M79.4 474.2h1M80.4 473.3h1M93.4 471.3h1M85.5 475.6h1M89.1 474.4h1M77 474.8h1M85.1 484.2h1M86.5 487.5h1M93.8 478.5h1M91.2 471.8h1M82.9 477.6h1M93.2 474.3h1M112.9 487.1h1M89.5 468.9h1M111.3 481.9h1M89.2 475.4h1M104.9 482.6h1M79.9 470h1M93.9 469.9h1M82 472.7h1M86.9 473.4h1M95.8 480.5h1M121.8 472.9h1M90 478h1M80.3 484.3h1M106.8 470.3h1M89.3 486h1M87.3 470.8h1M100.5 482.2h1M78.7 473.5h1M89.9 472.4h1M97.1 487.9h1M90.2 477.7h1M97.5 474.4h1M81.1 483.6h1M79.2 470.7h1M91.3 485h1M98.3 479.7h1M85.6 475.1h1M102.9 472.6h1M99.2 479.5h1M84.6 486.8h1M86.4 478.4h1M93.4 472.1h1M95.4 478.4h1M112.1 476.7h1M78.4 478.4h1M109.4 472h1M79 469.8h1M92.8 485.8h1M82.8 470.5h1M85.9 487.6h1M107.6 482.5h1M79.7 486h1M97.6 480.8h1M80.4 470.3h1M84 477.1h1M80.2 478.4h1M87.7 473.9h1M100.3 474.1h1M80.5 486h1M100.4 480.4h1M97.8 478.3h1M94.5 475.5h1M86.6 479.5h1M78.1 471h1M114 482.7h1M77.9 469h1M84.5 484h1M80.8 481.3h1M89.4 469.6h1M83.3 486h1M88.7 474.8h1M92.1 481.9h1M101 470.3h1M82.8 474.4h1M98.8 476.7h1M114.9 469.9h1M97.1 476.4h1M95.4 481.7h1M107.4 482.2h1M105.7 474.7h1M114.8 472.8h1M103.9 482.2h1M92.7 468.9h1M97.8 478.9h1M132 475.7h1M80.1 473.4h1M78.3 484.4h1M102.1 470.4h1M88.7 486.1h1M103 479.7h1M88.2 478.3h1M90.2 484.9h1M83.6 478.6h1M90.7 474.7h1M88.6 483.6h1M97.3 483.9h1M92.9 480.9h1M118.7 483.5h1M112.3 471.7h1M86.8 480.4h1M89.8 485.4h1M85.7 479.6h1M89.2 474.5h1M90.1 478.7h1M80.6 483.3h1M106.2 485.4h1M88.6 472.5h1M101.1 476.1h1M84.2 469.1h1M101 480.1h1M77.3 468.9h1M77.1 475.4h1M83.9 480.1h1M99.3 487.8h1M78.4 478h1M90.4 472.5h1M77.2 485.1h1M86.9 482.8h1M87.4 473.6h1M90.9 470.7h1M78.4 468.9h1M83.7 475.9h1M103 478.9h1M82.2 483.7h1M85.1 486h1M107.8 482.6h1M86.5 482h1M102 471.3h1M82.7 483.8h1M86.1 471.5h1M100 477h1M88.5 484.2h1M100.3 483.1h1M83 478.3h1M79 483.8h1M101.6 472.5h1M105.6 478.4h1M98 487.1h1M88.6 478.3h1M97.1 485.2h1M88.8 478h1M92.6 477.1h1M83.9 484.6h1M80.2 476.3h1M86 484.9h1M79.6 483.7h1M88.9 473h1M84.7 483.9h1M94.5 483.7h1M88.3 474.8h1M93.1 482.1h1M88.2 470.1h1M93.4 469.2h1M90.5 472h1M97.6 483.6h1M90.5 485.7h1M89.6 487.3h1M83.7 470.4h1M96.6 487.7h1M85.3 480.2h1M99.7 486.7h1M83.9 475.8h1M94.4 478h1M77.9 476.4h1M90.2 486.1h1M98.1 486.5h1M79.3 472.1h1M87.9 475.1h1M83.5 469.8h1M95.3 488h1M83.6 469.6h1M100.5 479.6h1M77.2 474.2h1M98.3 480.9h1M110.5 473.4h1M85 476h1M83 470h1M94.8 477.2h1M134.1 471.2h1M92.5 486.4h1M84 472.8h1M105.3 471.1h1M82.7 484.7h1M94.9 480.9h1M84.3 474.1h1M105.9 475.7h1M95.9 472.3h1M91.8 471.2h1M97.5 481.4h1M86.8 471.4h1M103.7 470.6h1M86 475.5h1M80.8 479.7h1M78.9 478.8h1M88.8 474.8h1M80.7 472.6h1M81.7 478h1M98.2 476.7h1M83.1 486.5h1M78.1 481.8h1M92.3 469.2h1M102.1 475.2h1M101 472.5h1M88.9 476.3h1M78.4 481.1h1M76.9 483.8h1M90 471.1h1M85.5 470.2h1M84.1 471.1h1M110.7 476.2h1M87.9 480.4h1M96.4 476.1h1M105.3 479.4h1M98.9 469.4h1M79.4 473.7h1M80.7 470.2h1M86.4 482h1M87.2 480.7h1M98.1 475.7h1M98.9 485h1M92.5 477.4h1M95.3 471.6h1M86.6 483.6h1M102.6 475.3h1M78.9 486.1h1M99.2 483.5h1M86.4 474.6h1M91.2 486.6h1M80 486.3h1M95.6 477h1M87.5 471.8h1M82 470.2h1M109.6 481.1h1M100.8 480.1h1M100.4 469.7h1M81.6 471.4h1M101.3 472.6h1M81.8 473.6h1M87.3 475.6h1M94.5 480.4h1M93.4 475h1M83.9 471.2h1M91.6 469.2h1M84.8 476.9h1M103.1 475.8h1M79.6 477.3h1M129.3 474.2h1M79.6 478.7h1M94.1 474.8h1M89.6 483h1M80.9 475.4h1M97.8 478.6h1M82.8 469.4h1M83.6 474h1M87.9 486h1M104 487.2h1M85.5 471.9h1M87.4 487.2h1M89.9 485.8h1M93.7 480.8h1M81.8 469.3h1M90.6 486.7h1M112.1 471.3h1M87.3 482.3h1M91.7 482.2h1M88.2 471.1h1M97.8 471.9h1M98.1 470h1M85.9 475.5h1M94.9 475.1h1M89.6 469h1M81.1 477.3h1M85.8 471.7h1M123.2 474.6h1M79.4 471.4h1M79.2 469.5h1M86.1 472.5h1M81.6 480.5h1M98.3 480.4h1M94.8 479.7h1M99.2 481h1M112.1 482.9h1M78.1 480.3h1M89.3 470h1M95 470.8h1M85.5 482.7h1M84.5 474.1h1M78 470.5h1M87.5 484.7h1M77.4 487.5h1M95.7 471.4h1M83.8 477.7h1M122.6 471.8h1M97 482.6h1M79.1 476.7h1M84.5 474.5h1M81.5 486.8h1M77 485.4h1M82.3 470.6h1M106.8 479.2h1M100.1 469.3h1M86.4 474.5h1M93.5 473.1h1M84.8 480h1M96.9 474.4h1M79.6 475h1M118.6 475.2h1M85.8 472.9h1M116.5 476.7h1M77 487.9h1M106.1 475.1h1M82.9 475.9h1M111.2 470.3h1M81.7 476.6h1M86.1 483.1h1M86.2 480.7h1M79.2 469.5h1M94.3 478.1h1M90.6 472.4h1M86.5 475.8h1M101.6 481.2h1M110.8 486.5h1M85 478.7h1M100.7 475.1h1M121.7 471.6h1M78.8 476.2h1M78 469.2h1M91.1 487.9h1M88.3 476.6h1M77.5 469.2h1M83.5 474.7h1M110.4 482.4h1M99.3 476h1M81.8 472.4h1M96.2 471.1h1M86.6 479.4h1M87.6 469.3h1M81.5 473.7h1M82.4 482.6h1M96.2 474.1h1M80.2 473.3h1M78.6 474.9h1M88.1 470h1M107.9 476.3h1M89.6 469h1M95.7 482.9h1M86 476.9h1M109.5 487.4h1M88.5 470.2h1M86.8 472.9h1M77 477.3h1M117.1 483.1h1M109.4 484.5h1M86.5 481.8h1M77.4 474h1M93.5 472h1M85.8 478.1h1M98.9 485.3h1M76.9 470.5h1M95.3 484.9h1M94.6 481.4h1M104.8 485.8h1M93.4 487.9h1M98.9 470.7h1M77.5 474.2h1M98.7 479.9h1M91.6 477.8h1M87.4 475.2h1M96.6 472.5h1M79.3 476h1M86.9 470.1h1M95.4 473.3h1M81.5 483h1M85 482.3h1M99.4 470.4h1M92.3 474.3h1M107.3 473.4h1M78.5 474.8h1M77.2 479.4h1M91.1 473h1M91.5 479.4h1M92.9 468.8h1M92.3 470.1h1" stroke="#ee2ad8" stroke-width="1" stroke-opacity="0.9" fill="none"/>
<path d="M82.9 469.9h1M90.3 472.6h1M90.8 471.2h1M83.3 475.8h1M105.5 477.8h1M82 477.1h1M99.9 472.7h1M102.2 479.5h1M90.4 470h1M81.7 478.8h1M96.7 473.3h1M92 477.6h1M94.7 477.4h1M82.6 477.2h1M92.3 481.6h1M110.3 478.7h1M80.3 470h1M87.1 480h1M81.1 471.3h1M99 474.2h1M101.6 473.4h1M110.4 474.2h1M93.1 469h1M81.3 470.8h1M89.3 480h1M102.9 480.2h1M90.8 469.8h1M95.6 472.2h1M104.1 470.7h1M87.6 470.3h1M96.8 484.2h1M108.5 480.1h1M93.9 471.9h1M78.5 473.8h1M97.3 470.1h1M117.5 473.9h1M79.9 483.2h1M92.2 469.3h1M91.8 469.7h1M99.1 480h1M78.5 479.2h1M84.7 478.1h1M116.2 483.8h1M96.1 469.7h1M78.4 469.2h1M97.6 480h1M86.1 475.9h1M109.5 483.3h1M94.2 481.5h1M86.6 479.4h1M100.7 476.2h1M88.7 480.7h1M80.4 472.7h1M92.6 476.8h1M85.7 479.1h1M80.3 485.7h1M90 484h1M90.6 470.9h1M81.8 471.1h1M112.6 481.2h1M78.8 478.9h1M92 476.9h1M84.2 471.2h1M98.7 480.7h1M90.3 477.4h1M91.5 477.5h1M103.6 480.9h1M90.2 480.9h1M95.5 482.5h1M79 479.2h1M107.7 478.3h1M101.9 473.5h1M81.4 478.8h1M93.7 471.3h1M79.8 480.1h1M118.1 478.6h1M104.1 482.2h1M104.5 486h1M94 476.5h1M90 477.3h1M77.9 484.8h1M90 484.8h1M86.9 469.1h1M85.8 471.5h1M92.6 479.5h1M81.6 470.2h1M77.4 469h1M95.4 476h1M92.2 474.5h1M87.1 473.3h1M79.3 469.5h1M84.3 482.8h1M99 481h1M99.5 473.5h1M79.3 472.6h1M87.2 473.3h1M112.9 478.9h1M91.3 476.6h1M84.2 470.7h1M77.4 485.9h1M88.5 471.4h1M84.3 477.2h1M83.6 482.6h1M84.4 480h1M89.3 474.3h1M101.5 471.3h1M95.8 482.1h1M86.8 485.6h1M98.3 475.5h1M84.6 469.7h1M91.1 470.3h1M86.5 480.6h1M111.6 481.7h1M83.4 478.8h1M83.5 470.3h1M80.7 485.6h1M98.6 482.7h1M89.9 482.3h1M80.9 481.3h1M98.2 481.5h1M118.3 471.2h1M110.7 481.5h1M108.7 471.1h1M76.9 482h1M83.6 483.7h1M87.7 471.8h1M95.3 478.9h1M112.3 479.7h1M91.1 477.4h1M91.4 480.7h1M87.9 469.4h1M87.1 477.7h1M98.2 485.4h1M93.4 474.1h1M82 478.7h1M78.7 483.5h1M99.8 469.4h1M84.2 476.1h1M87 470.8h1M99.9 469h1M108 480.6h1M89.2 482.2h1M105.1 471.7h1M113.3 487.9h1M96 485.9h1M79.9 478h1M100.4 471.4h1M114.7 472.7h1M78.4 483.1h1M79.7 481.7h1M82.9 481.1h1M78.7 479.7h1M100.5 479.7h1M105.6 474.8h1M89 478.9h1M78.3 469.1h1M92 472.1h1M76.9 470.9h1M88 476.1h1M106.7 474.1h1M132.3 477.1h1M99 484.5h1M83.8 486.6h1M100.8 481.8h1M85.1 483.3h1M90.6 472.8h1M100.3 472.7h1M97.4 471.2h1M89.1 481.2h1M86.4 471.8h1M89.4 484.6h1M96.2 478.3h1M118.3 468.8h1M94.6 476.1h1M79.4 476.9h1M77.5 487.7h1M79.6 486.5h1M88.9 485.4h1M89 469.5h1M77.2 473.5h1M86.6 480.5h1M80.6 476.4h1M85.3 472.7h1M80.7 481.5h1M81.5 478.2h1M78.3 471.5h1M89.6 480.3h1M85.4 471.6h1M110.1 477.7h1M89.2 470.6h1M86.7 475.5h1M78.1 470.8h1M87.7 487.7h1M79.4 483.1h1M87 481.9h1M82.3 482.2h1M95.8 480h1M90.5 470.2h1M91.3 469.9h1M79.5 487.4h1M96.1 473.9h1M91.4 478.5h1M87.2 471.6h1M86.3 472.6h1M79.2 473h1M87.6 469.8h1M89.7 468.8h1M84.8 484.9h1M81.6 488.1h1M81.4 483.2h1M77.3 479h1M86.8 483.9h1M85.8 483.7h1M81.3 471.8h1M92.2 474.3h1M92.3 485.5h1M97 485.4h1M98.9 476.1h1M80.8 483.1h1M80.4 486.9h1M88.8 485.9h1M77.6 476.4h1M80 477.2h1M80 469.3h1M93.9 486.9h1M104.8 478.1h1M91.2 485.9h1M93.3 469.8h1M97.5 469.1h1M85.9 479.3h1M101.6 469.2h1M90.2 483.4h1M90.4 477.3h1M78.9 485.6h1M90.8 472.4h1M87.3 479.3h1M86.5 471.2h1M83.2 475.9h1M87.6 473.6h1M86.6 469.1h1M82.3 480.9h1M83.9 471.9h1M91.7 470.8h1M98.9 486.8h1M79 472.6h1M107.2 483.8h1M96 481.4h1M107.9 478.8h1M82.4 472.8h1M93.9 479.6h1M101.8 470.6h1M96.4 469.2h1M99.2 472.9h1M91.3 480.4h1M99.1 469.5h1M87.5 472h1M102.7 475.4h1M78.3 469.2h1M76.9 485.3h1M96 468.9h1M96.1 468.9h1M89.7 478h1M103.5 482.1h1M103.1 473.1h1M100.8 487.6h1M80.1 471.4h1M104.4 478.3h1M92.9 478.1h1M99.2 483.5h1M84 475.7h1M78.2 471.1h1M79.7 476.4h1M78.3 471.3h1M98.8 470.4h1M80.8 484.2h1M78.3 469.7h1M89.9 484.9h1M80.7 480.3h1M100.6 476.6h1M79 474.8h1" stroke="#f58af0" stroke-width="1" stroke-opacity="0.85" fill="none"/>
<path d="M79.2 469.5h1M109.8 486.1h1M95.2 483.7h1M84.3 469.9h1M85.9 480.4h1M77.8 470.5h1M88.3 484.1h1M80.9 473.5h1M91.6 470.6h1M90.6 479.2h1M89.9 477h1M103.3 478.9h1M110 485.4h1M84.4 471.5h1M88.7 482.9h1M91.8 474.2h1M86.4 475.9h1M83.8 481.7h1M89.2 487.9h1M86.5 479.3h1M86.2 484h1M109.2 476h1M100.7 471h1M99.1 474h1M78.6 486.6h1M77.3 482.1h1M101.2 480.4h1M85 477.4h1M100.6 469.4h1M89.6 473.1h1M117.7 476.9h1M104 481.8h1M77.3 484.7h1M77.7 482h1M100.4 475.7h1M84 471.4h1M103.2 483.9h1M94.2 475.1h1M80.8 472.2h1M116.5 487.7h1M93.4 470.7h1M91.2 478.3h1M80.2 471.9h1M93.8 473.4h1M125.3 473.7h1M91.8 486.2h1M94.6 475.1h1M88.2 480.2h1M114.4 476.7h1M103.2 474.2h1M76.8 478.8h1M90.2 470.8h1M91.6 471.8h1M94.7 478.1h1M82.4 482.9h1M77 486.9h1M77.6 473.8h1M79.9 486.8h1M111 477.6h1M107.7 486.1h1M80.4 487h1M86.3 476.6h1M110.9 479.1h1M80.4 483.6h1M77.9 472.4h1M81.9 472.2h1M108.9 475.9h1M87.3 480.3h1M84.9 483.4h1M78.3 483.5h1M82.9 478.8h1M99.5 480.1h1M80.8 478.7h1M76.9 474.3h1M94.8 479.2h1M85.9 477.8h1M76.8 474.3h1M77.2 472.7h1M92.3 474.5h1M78.4 481h1M82.6 474.1h1M109.5 478.7h1M93.7 484.5h1M80.4 469.2h1M89.7 476.8h1M80.4 485.7h1M91.5 473.2h1M84.6 475.9h1M85.3 487.1h1M84.8 470.3h1M94.7 479h1M90 478.3h1M78.1 470.7h1M90.5 476.4h1M85 472.9h1M85.4 472.9h1M80.2 483.6h1M79.8 486.7h1M84.9 471.5h1M94.7 472.1h1M94.1 479.1h1M91.4 472.7h1M82.5 474.8h1M122.8 486.4h1M99.7 485.7h1M103.5 473.8h1M84.7 485.8h1M109.2 470.8h1M90 473.7h1M85.6 471.5h1M101.3 481.1h1M87.9 474.2h1M103 473.6h1M87.5 474.1h1M106.3 486.7h1M98.4 479.5h1M87.4 468.9h1M80.8 481.2h1M81.8 477.1h1M90.5 472.9h1" stroke="#b8209c" stroke-width="1" stroke-opacity="0.8" fill="none"/>
<path d="M109.9 478.9h1M109 477.9h1M105.4 470.5h1M111.4 469.7h1M84.6 484.5h1M88.3 477.1h1M104.2 486.7h1M113.8 477h1M112.3 470.5h1M105.2 482.4h1M88.5 474.6h1M102.9 480.2h1M104.6 469.5h1M108.7 485.2h1M113.4 472.2h1M108.6 475.6h1M101.9 476.4h1M108 478.5h1M97.3 485.9h1M100.5 484.7h1M102.4 475.7h1M97.7 475.7h1M113.4 482.3h1M95.2 474.9h1M105.3 473h1M93.3 486h1M113.7 482.5h1M97.1 476.3h1M104.3 472.5h1M112.3 477.9h1M106.3 476.5h1M103.7 474.3h1M87.1 479.4h1M99.3 471.9h1M99.9 473.6h1M106.6 478.9h1M101.1 476.3h1M94.7 476.4h1M102.3 481h1M98 470.2h1M109.6 482.6h1M100.6 486.3h1M100.3 485.4h1M107 485h1M102.5 469.6h1M99.7 474.5h1M87.4 470.6h1M100.4 470.7h1M110.7 472h1M113.1 469.8h1M110.4 485.8h1M88.5 479.7h1M111.1 474.7h1M101.4 473.3h1M106.6 468.9h1M104.8 469.4h1M101.4 480.6h1M92.6 477.6h1M97.4 474.6h1M97.2 477.4h1M108.4 475.6h1M90.3 481.7h1M86.6 478.9h1M110.4 476.5h1M105.8 468.9h1M103.2 478.8h1M90.2 484.7h1M89.3 473.4h1M105.9 475h1M90.4 482.6h1M110.5 471.8h1M91 479.5h1M104.8 480.1h1M93.5 483.3h1M96 485.1h1M96.4 484.2h1M84.2 472.2h1M99.2 483h1M110.7 479.8h1M101.5 476.3h1M91.9 469.7h1M102 479.6h1M112.3 476.6h1M100.5 481.6h1M101 479.6h1M108.5 471.4h1M86.6 481.7h1M96 471.3h1M98.5 471.2h1M95.8 481h1M102.8 485.5h1M108.7 481.9h1M98.9 486h1M108.8 471.5h1M99.9 470.5h1M111.4 477.5h1M96.4 473.6h1M99.9 473.9h1M106.4 472.2h1M83 474.2h1M111.2 482.3h1M99.9 476.2h1M97.8 477.9h1M88.9 471.6h1M88.1 480.4h1M100.7 481.5h1M109.6 475.2h1M104.3 478.8h1M111.8 473.4h1M113.4 470.3h1M101.9 471.8h1M91.9 468.9h1M112.5 485.3h1M92.9 486.3h1M103.2 471.7h1M92.3 483.8h1M111.1 479.4h1M108.4 482.8h1M102.2 479.8h1M110.8 478.2h1M106.3 475.5h1M104.9 475.8h1M106.1 484.9h1M111.3 474.2h1M98.6 471.7h1M106.7 487h1M97.3 474h1M105.9 470.7h1M102.4 473.8h1M108 483.5h1" stroke="#fde4fa" stroke-width="1" stroke-opacity="0.9" fill="none"/>
</g>
<g stroke="#111" stroke-width="1.25" fill="none">
<rect x="45.2" y="350.1" width="153.6" height="141.6"/>
<path d="M75.8 350.1V491.7M45.2 467.6H198.8" stroke-width="1.4"/>
</g>
<path d="M33.2 456.9H45.2M33.2 421.3H45.2M33.2 385.7H45.2M33.2 350.1H45.2M83.1 491.7V503.2M121.7 491.7V503.2M160.3 491.7V503.2M198.9 491.7V503.2" stroke="#111" stroke-width="1.1" fill="none"/>
<path d="M41.4 481.8H45.2M56.1 492.3V494.6M41.4 475.5H45.2M62.9 492.3V494.6M41.4 471.1H45.2M67.7 492.3V494.6M41.4 467.6H45.2M71.5 492.3V494.6M41.4 464.8H45.2M74.5 492.3V494.6M41.4 462.4H45.2M77.1 492.3V494.6M41.4 460.3H45.2M79.4 492.3V494.6M41.4 458.5H45.2M81.3 492.3V494.6M41.4 446.2H45.2M94.7 492.3V494.6M41.4 439.9H45.2M101.5 492.3V494.6M41.4 435.5H45.2M106.3 492.3V494.6M41.4 432H45.2M110.1 492.3V494.6M41.4 429.2H45.2M113.1 492.3V494.6M41.4 426.8H45.2M115.7 492.3V494.6M41.4 424.7H45.2M118 492.3V494.6M41.4 422.9H45.2M119.9 492.3V494.6M41.4 410.6H45.2M133.3 492.3V494.6M41.4 404.3H45.2M140.1 492.3V494.6M41.4 399.9H45.2M144.9 492.3V494.6M41.4 396.4H45.2M148.7 492.3V494.6M41.4 393.6H45.2M151.7 492.3V494.6M41.4 391.2H45.2M154.3 492.3V494.6M41.4 389.1H45.2M156.6 492.3V494.6M41.4 387.3H45.2M158.5 492.3V494.6M41.4 375H45.2M41.4 368.7H45.2M41.4 364.3H45.2M41.4 360.8H45.2M41.4 358H45.2M41.4 355.6H45.2M41.4 353.5H45.2M41.4 351.7H45.2" stroke="#111" stroke-width="1.05" fill="none"/>
<text x="24.6" y="453.7" font-size="9.2">10<tspan dx="0.5" dy="-2.0" font-size="9.7">0</tspan></text>
<text x="24.6" y="418.1" font-size="9.2">10<tspan dx="0.5" dy="-2.0" font-size="9.7">1</tspan></text>
<text x="24.6" y="382.5" font-size="9.2">10<tspan dx="0.5" dy="-2.0" font-size="9.7">2</tspan></text>
<text x="24.6" y="346.9" font-size="9.2">10<tspan dx="0.5" dy="-2.0" font-size="9.7">3</tspan></text>
<text transform="translate(84.6 503.6) scale(.9 1)" font-size="10.4">10<tspan dx="0.5" dy="-2.4" font-size="10.8">0</tspan></text>
<text transform="translate(123.2 503.6) scale(.9 1)" font-size="10.4">10<tspan dx="0.5" dy="-2.4" font-size="10.8">1</tspan></text>
<text transform="translate(161.8 503.6) scale(.9 1)" font-size="10.4">10<tspan dx="0.5" dy="-2.4" font-size="10.8">2</tspan></text>
<text transform="translate(179.3 503.6) scale(.9 1)" font-size="10.4">10<tspan dx="0.5" dy="-2.4" font-size="10.8">3</tspan></text>
<text transform="translate(45.6 361.7) scale(.9 1)" font-size="13">C1</text>
<text transform="translate(77.2 361.7) scale(.9 1)" font-size="13">C2</text>
<text transform="translate(45.2 479.7) scale(.9 1)" font-size="13">C3</text>
<text transform="translate(77.2 479.7) scale(.9 1)" font-size="13">C4</text>
<text x="90.7" y="378.4" font-size="12" textLength="94.8" style="stroke-width:.4px">hu14.18/GM-CSF</text>
</g>
<text transform="translate(11.2 262.3) rotate(-90)" text-anchor="middle" font-size="11.5">CD63</text>
<text x="116.3" y="518.7" font-size="11.5">mAb24</text>
<rect x="39.1" y="508.8" width="18.9" height="19.2" fill="#ff33ff" stroke="#111" stroke-width="1.7"/>
<rect x="39.1" y="530.7" width="18.9" height="19.3" fill="#ff1e46" stroke="#111" stroke-width="1.7"/>
<text x="65" y="527.2" font-size="11.5">mAb24+</text>
<text x="65" y="542.6" font-size="12">CD63+</text>
<path d="M283.5 78.2V237.4H511.8M280.9 212.6H283.5M280.9 185.8H283.5M280.9 159H283.5M280.9 132.2H283.5M280.9 105.4H283.5M280.9 78.6H283.5M297.3 237.4V240.0M333 237.4V240.0M368.6 237.4V240.0M404.3 237.4V240.0M440 237.4V240.0M475.6 237.4V240.0M511.3 237.4V240.0" stroke="#111" stroke-width="1.2" fill="none"/>
<text x="276.4" y="216" font-size="9.8" text-anchor="end">0</text>
<text x="276.4" y="189.2" font-size="9.8" text-anchor="end">500</text>
<text x="276.4" y="162.4" font-size="9.8" text-anchor="end">1000</text>
<text x="276.4" y="135.6" font-size="9.8" text-anchor="end">1500</text>
<text x="276.4" y="108.8" font-size="9.8" text-anchor="end">2000</text>
<text x="276.4" y="82" font-size="9.8" text-anchor="end">2500</text>
<text x="297.3" y="253.8" font-size="9.8" text-anchor="middle">0</text>
<text x="333" y="253.8" font-size="9.8" text-anchor="middle">20</text>
<text x="368.6" y="253.8" font-size="9.8" text-anchor="middle">40</text>
<text x="404.3" y="253.8" font-size="9.8" text-anchor="middle">60</text>
<text x="440" y="253.8" font-size="9.8" text-anchor="middle">80</text>
<text x="475.6" y="253.8" font-size="9.8" text-anchor="middle">100</text>
<text x="511.3" y="253.8" font-size="9.8" text-anchor="middle">120</text>
<text x="372.6" y="271.3" font-size="11.2">Time, min</text>
<text transform="translate(246.6 158.8) rotate(-90)" text-anchor="middle" font-size="11.3">mAb24 CD63 positive events, number</text>
<polyline points="297.3,209.1 306.2,205.6 315.1,202.4 333,200.5 350.8,198.7 377.5,199.7 404.3,202.3 457.8,203 511.3,199.2" fill="none" stroke="#111" stroke-width="1.05"/>
<circle cx="297.3" cy="209.1" r="2.8" fill="#111" stroke="#111" stroke-width="1"/>
<circle cx="306.2" cy="205.6" r="2.8" fill="#111" stroke="#111" stroke-width="1"/>
<circle cx="315.1" cy="202.4" r="2.8" fill="#111" stroke="#111" stroke-width="1"/>
<circle cx="333" cy="200.5" r="2.8" fill="#111" stroke="#111" stroke-width="1"/>
<circle cx="350.8" cy="198.7" r="2.8" fill="#111" stroke="#111" stroke-width="1"/>
<circle cx="377.5" cy="199.7" r="2.8" fill="#111" stroke="#111" stroke-width="1"/>
<circle cx="404.3" cy="202.3" r="2.8" fill="#111" stroke="#111" stroke-width="1"/>
<circle cx="457.8" cy="203" r="2.8" fill="#111" stroke="#111" stroke-width="1"/>
<circle cx="511.3" cy="199.2" r="2.8" fill="#111" stroke="#111" stroke-width="1"/>
<polyline points="297.3,209.1 306.2,204.6 315.1,201.9 333,199.7 350.8,195.7 377.5,195.4 404.3,197.1 457.8,197.2 511.3,199.7" fill="none" stroke="#111" stroke-width="1.05"/>
<circle cx="297.3" cy="209.1" r="2.8" fill="#fff" stroke="#111" stroke-width="1"/>
<circle cx="306.2" cy="204.6" r="2.8" fill="#fff" stroke="#111" stroke-width="1"/>
<circle cx="315.1" cy="201.9" r="2.8" fill="#fff" stroke="#111" stroke-width="1"/>
<circle cx="333" cy="199.7" r="2.8" fill="#fff" stroke="#111" stroke-width="1"/>
<circle cx="350.8" cy="195.7" r="2.8" fill="#fff" stroke="#111" stroke-width="1"/>
<circle cx="377.5" cy="195.4" r="2.8" fill="#fff" stroke="#111" stroke-width="1"/>
<circle cx="404.3" cy="197.1" r="2.8" fill="#fff" stroke="#111" stroke-width="1"/>
<circle cx="457.8" cy="197.2" r="2.8" fill="#fff" stroke="#111" stroke-width="1"/>
<circle cx="511.3" cy="199.7" r="2.8" fill="#fff" stroke="#111" stroke-width="1"/>
<polyline points="297.3,209.1 306.2,204.6 315.1,198.7 333,185.8 350.8,169.5 377.5,178.8 404.3,182 457.8,186.2 511.3,190.7" fill="none" stroke="#111" stroke-width="1.05"/>
<path d="M294.2 206.8H300.4L297.3 212.3Z" fill="#111" stroke="#111" stroke-width="1"/>
<path d="M303.1 202.3H309.3L306.2 207.8Z" fill="#111" stroke="#111" stroke-width="1"/>
<path d="M312 196.4H318.2L315.1 201.9Z" fill="#111" stroke="#111" stroke-width="1"/>
<path d="M329.9 183.5H336.1L333 189Z" fill="#111" stroke="#111" stroke-width="1"/>
<path d="M347.7 167.2H353.9L350.8 172.7Z" fill="#111" stroke="#111" stroke-width="1"/>
<path d="M374.4 176.5H380.6L377.5 182Z" fill="#111" stroke="#111" stroke-width="1"/>
<path d="M401.2 179.7H407.4L404.3 185.2Z" fill="#111" stroke="#111" stroke-width="1"/>
<path d="M454.7 183.9H460.9L457.8 189.4Z" fill="#111" stroke="#111" stroke-width="1"/>
<path d="M508.2 188.4H514.4L511.3 193.9Z" fill="#111" stroke="#111" stroke-width="1"/>
<polyline points="297.3,209.1 306.2,202.4 315.1,196 333,172.9 350.8,152 377.5,144.3 404.3,150.7 457.8,161.7 511.3,170.7" fill="none" stroke="#111" stroke-width="1.05"/>
<path d="M294.2 206.8H300.4L297.3 212.3Z" fill="#fff" stroke="#111" stroke-width="1"/>
<path d="M303.1 200.1H309.3L306.2 205.6Z" fill="#fff" stroke="#111" stroke-width="1"/>
<path d="M312 193.7H318.2L315.1 199.2Z" fill="#fff" stroke="#111" stroke-width="1"/>
<path d="M329.9 170.6H336.1L333 176.1Z" fill="#fff" stroke="#111" stroke-width="1"/>
<path d="M347.7 149.7H353.9L350.8 155.2Z" fill="#fff" stroke="#111" stroke-width="1"/>
<path d="M374.4 142H380.6L377.5 147.5Z" fill="#fff" stroke="#111" stroke-width="1"/>
<path d="M401.2 148.4H407.4L404.3 153.9Z" fill="#fff" stroke="#111" stroke-width="1"/>
<path d="M454.7 159.4H460.9L457.8 164.9Z" fill="#fff" stroke="#111" stroke-width="1"/>
<path d="M508.2 168.4H514.4L511.3 173.9Z" fill="#fff" stroke="#111" stroke-width="1"/>
<polyline points="297.3,209.1 306.2,201.9 315.1,192 333,171.1 350.8,143 377.5,111.8 404.3,100.5 457.8,117.5 511.3,124.3" fill="none" stroke="#111" stroke-width="1.05"/>
<rect x="294.6" y="206.4" width="5.4" height="5.4" fill="#111" stroke="#111" stroke-width="1"/>
<rect x="303.5" y="199.2" width="5.4" height="5.4" fill="#111" stroke="#111" stroke-width="1"/>
<rect x="312.4" y="189.3" width="5.4" height="5.4" fill="#111" stroke="#111" stroke-width="1"/>
<rect x="330.3" y="168.4" width="5.4" height="5.4" fill="#111" stroke="#111" stroke-width="1"/>
<rect x="348.1" y="140.3" width="5.4" height="5.4" fill="#111" stroke="#111" stroke-width="1"/>
<rect x="374.8" y="109.1" width="5.4" height="5.4" fill="#111" stroke="#111" stroke-width="1"/>
<rect x="401.6" y="97.8" width="5.4" height="5.4" fill="#111" stroke="#111" stroke-width="1"/>
<rect x="455.1" y="114.8" width="5.4" height="5.4" fill="#111" stroke="#111" stroke-width="1"/>
<rect x="508.6" y="121.6" width="5.4" height="5.4" fill="#111" stroke="#111" stroke-width="1"/>
<polyline points="297.3,209.1 306.2,207 315.1,205.1 333,200.3 350.8,198.1 377.5,194.9 404.3,196.5 457.8,197.1 511.3,198.4" fill="none" stroke="#111" stroke-width="1.05"/>
<rect x="294.6" y="206.4" width="5.4" height="5.4" fill="#fff" stroke="#111" stroke-width="1"/>
<rect x="303.5" y="204.3" width="5.4" height="5.4" fill="#fff" stroke="#111" stroke-width="1"/>
<rect x="312.4" y="202.4" width="5.4" height="5.4" fill="#fff" stroke="#111" stroke-width="1"/>
<rect x="330.3" y="197.6" width="5.4" height="5.4" fill="#fff" stroke="#111" stroke-width="1"/>
<rect x="348.1" y="195.4" width="5.4" height="5.4" fill="#fff" stroke="#111" stroke-width="1"/>
<rect x="374.8" y="192.2" width="5.4" height="5.4" fill="#fff" stroke="#111" stroke-width="1"/>
<rect x="401.6" y="193.8" width="5.4" height="5.4" fill="#fff" stroke="#111" stroke-width="1"/>
<rect x="455.1" y="194.4" width="5.4" height="5.4" fill="#fff" stroke="#111" stroke-width="1"/>
<rect x="508.6" y="195.7" width="5.4" height="5.4" fill="#fff" stroke="#111" stroke-width="1"/>
<polyline points="297.3,209.1 306.2,198.1 315.1,194.4 333,169.2 350.8,138 377.5,110 404.3,107.5 457.8,110 511.3,118.7" fill="none" stroke="#111" stroke-width="1.05"/>
<path d="M297.3 205.4L301 209.1L297.3 212.8L293.6 209.1Z" fill="#111" stroke="#111" stroke-width="1"/>
<path d="M306.2 194.4L309.9 198.1L306.2 201.8L302.5 198.1Z" fill="#111" stroke="#111" stroke-width="1"/>
<path d="M315.1 190.7L318.8 194.4L315.1 198.1L311.4 194.4Z" fill="#111" stroke="#111" stroke-width="1"/>
<path d="M333 165.5L336.7 169.2L333 172.9L329.3 169.2Z" fill="#111" stroke="#111" stroke-width="1"/>
<path d="M350.8 134.3L354.5 138L350.8 141.7L347.1 138Z" fill="#111" stroke="#111" stroke-width="1"/>
<path d="M377.5 106.3L381.2 110L377.5 113.7L373.8 110Z" fill="#111" stroke="#111" stroke-width="1"/>
<path d="M404.3 103.8L408 107.5L404.3 111.2L400.6 107.5Z" fill="#111" stroke="#111" stroke-width="1"/>
<path d="M457.8 106.3L461.5 110L457.8 113.7L454.1 110Z" fill="#111" stroke="#111" stroke-width="1"/>
<path d="M511.3 115L515 118.7L511.3 122.4L507.6 118.7Z" fill="#111" stroke="#111" stroke-width="1"/>
<polyline points="297.3,209.1 306.2,203.2 315.1,201.9 333,200 350.8,197.3 377.5,196.5 404.3,196.1 457.8,193.7 511.3,196.2" fill="none" stroke="#111" stroke-width="1.05"/>
<path d="M297.3 205.4L301 209.1L297.3 212.8L293.6 209.1Z" fill="#fff" stroke="#111" stroke-width="1"/>
<path d="M306.2 199.5L309.9 203.2L306.2 206.9L302.5 203.2Z" fill="#fff" stroke="#111" stroke-width="1"/>
<path d="M315.1 198.2L318.8 201.9L315.1 205.6L311.4 201.9Z" fill="#fff" stroke="#111" stroke-width="1"/>
<path d="M333 196.3L336.7 200L333 203.7L329.3 200Z" fill="#fff" stroke="#111" stroke-width="1"/>
<path d="M350.8 193.6L354.5 197.3L350.8 201L347.1 197.3Z" fill="#fff" stroke="#111" stroke-width="1"/>
<path d="M377.5 192.8L381.2 196.5L377.5 200.2L373.8 196.5Z" fill="#fff" stroke="#111" stroke-width="1"/>
<path d="M404.3 192.4L408 196.1L404.3 199.8L400.6 196.1Z" fill="#fff" stroke="#111" stroke-width="1"/>
<path d="M457.8 190L461.5 193.7L457.8 197.4L454.1 193.7Z" fill="#fff" stroke="#111" stroke-width="1"/>
<path d="M511.3 192.5L515 196.2L511.3 199.9L507.6 196.2Z" fill="#fff" stroke="#111" stroke-width="1"/>
<circle cx="297.3" cy="209.1" r="2.8" fill="#fff" stroke="#111" stroke-width="1"/>
<path d="M352.3 5.5H374.8" stroke="#111" stroke-width="1.2"/>
<circle cx="363.6" cy="5.5" r="2.8" fill="#111" stroke="#111" stroke-width="1"/>
<text x="381" y="9" font-size="10.2">Control</text>
<path d="M352.3 17.7H374.8" stroke="#111" stroke-width="1.2"/>
<circle cx="363.6" cy="17.7" r="2.8" fill="#fff" stroke="#111" stroke-width="1"/>
<text x="381" y="21.2" font-size="10.2">GM-CSF</text>
<path d="M352.3 29.9H374.8" stroke="#111" stroke-width="1.2"/>
<path d="M360.5 27.6H366.7L363.6 33.1Z" fill="#111" stroke="#111" stroke-width="1"/>
<text x="381" y="33.4" font-size="10.2">hu14.18</text>
<path d="M352.3 42H374.8" stroke="#111" stroke-width="1.2"/>
<path d="M360.5 39.7H366.7L363.6 45.2Z" fill="#fff" stroke="#111" stroke-width="1"/>
<text x="381" y="45.5" font-size="10.2">hu14.18+GM-CSF</text>
<path d="M352.3 54.2H374.8" stroke="#111" stroke-width="1.2"/>
<rect x="360.9" y="51.5" width="5.4" height="5.4" fill="#111" stroke="#111" stroke-width="1"/>
<text x="381" y="57.7" font-size="10.2">hu14.18/GM-CSF</text>
<path d="M352.3 66.4H374.8" stroke="#111" stroke-width="1.2"/>
<rect x="360.9" y="63.7" width="5.4" height="5.4" fill="#fff" stroke="#111" stroke-width="1"/>
<text x="381" y="69.9" font-size="10.2">hu14.18/GM-CSF+anti-CD32</text>
<path d="M352.3 78.6H374.8" stroke="#111" stroke-width="1.2"/>
<path d="M363.6 74.9L367.3 78.6L363.6 82.3L359.9 78.6Z" fill="#111" stroke="#111" stroke-width="1"/>
<text x="381" y="82.1" font-size="10.2">hu14.18/GM-CSF+anti-CD16</text>
<path d="M352.3 90.8H374.8" stroke="#111" stroke-width="1.2"/>
<path d="M363.6 87.1L367.3 90.8L363.6 94.5L359.9 90.8Z" fill="#fff" stroke="#111" stroke-width="1"/>
<text x="381" y="94.3" font-size="10.2">hu14.18/GM-CSF+anti-CD11b</text>
</svg>
</body></html>
